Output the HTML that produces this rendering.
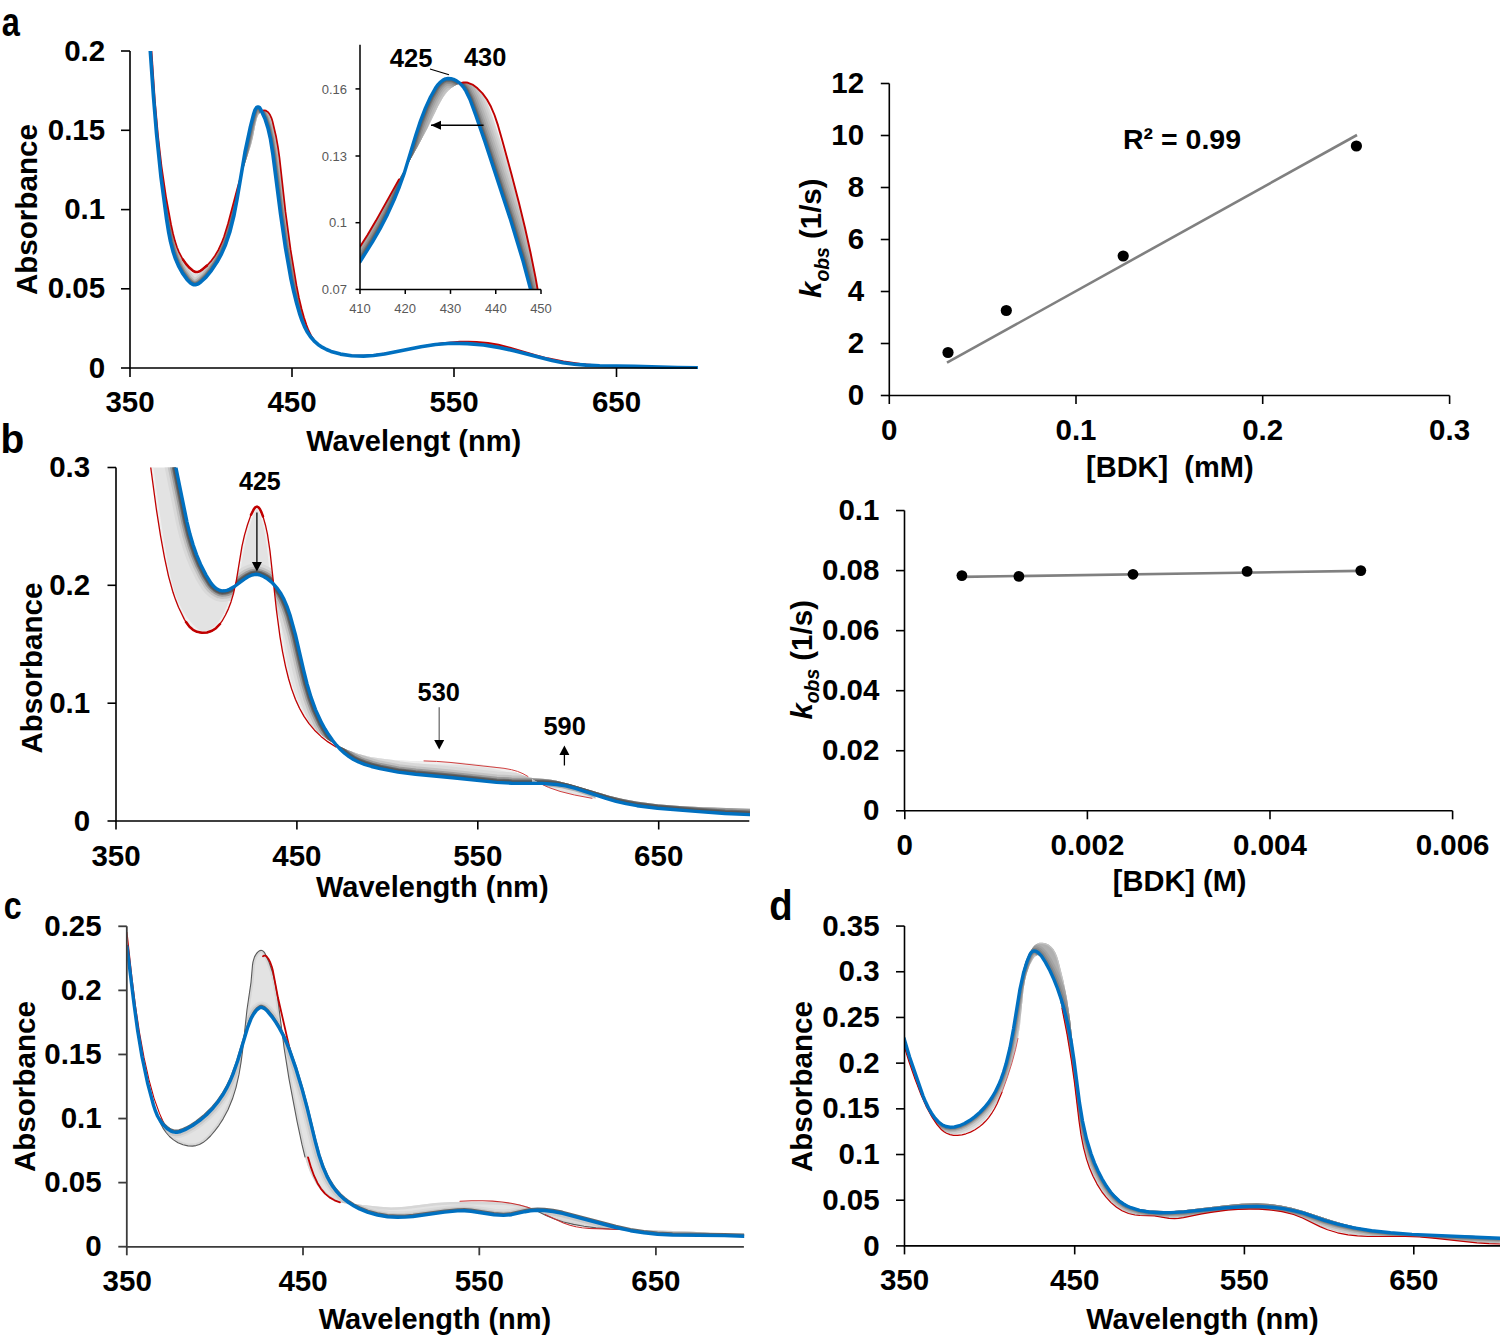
<!DOCTYPE html>
<html><head><meta charset="utf-8"><title>Figure</title>
<style>html,body{margin:0;padding:0;background:#fff;width:1500px;height:1340px;overflow:hidden}
text{font-family:"Liberation Sans",sans-serif}</style></head>
<body>
<svg width="1500" height="1340" viewBox="0 0 1500 1340" style="display:block;font-family:'Liberation Sans',sans-serif;font-weight:bold">
<text transform="translate(1.86,36.19) scale(0.8043,1)" font-size="40.51" font-weight="bold">a</text>
<text transform="translate(0.43,452.99) scale(0.9402,1)" font-size="41.36" font-weight="bold">b</text>
<text transform="translate(3.65,918.81) scale(0.8162,1)" font-size="39.42" font-weight="bold">c</text>
<text transform="translate(769.13,919.88) scale(0.9109,1)" font-size="42.04" font-weight="bold">d</text>
<defs><clipPath id="ca"><rect x="130" y="51" width="568" height="318"/></clipPath><clipPath id="cai"><rect x="360" y="44" width="182" height="246"/></clipPath><clipPath id="cb"><rect x="116" y="467.5" width="634" height="354"/></clipPath><clipPath id="cc"><rect x="127.2" y="926" width="617" height="321"/></clipPath><clipPath id="cd"><rect x="904.5" y="926" width="596" height="320"/></clipPath><marker id="ah" viewBox="0 0 10 10" refX="10" refY="5" markerWidth="10" markerHeight="10" markerUnits="userSpaceOnUse" orient="auto"><path d="M0,0.5 L10,5 L0,9.5Z" fill="#000"/></marker></defs>
<g clip-path="url(#ca)">
<clipPath id="bf1"><path d="M140.0,-50.0 144.0,-50.0 144.5,-45.9 147.5,-8.5 153.0,75.3 156.0,114.2 158.0,135.5 160.5,158.0 163.0,177.1 166.0,196.8 169.0,213.9 172.0,229.1 174.5,239.3 177.0,247.2 180.0,254.2 183.5,260.4 187.5,265.6 192.5,270.4 195.5,272.0 198.0,272.0 201.0,270.4 205.5,266.9 210.0,262.3 214.0,257.2 217.5,251.6 220.5,245.5 223.5,238.1 226.0,230.6 240.0,179.1 251.0,144.9 253.0,137.1 255.5,124.0 257.0,118.1 258.5,114.6 260.5,111.9 263.0,110.5 265.0,110.3 267.0,111.3 268.5,112.6 270.0,114.8 271.0,116.8 272.5,121.3 274.0,127.1 277.0,141.4 280.0,161.8 285.0,207.6 289.5,242.4 295.0,277.1 298.0,293.1 300.5,304.5 303.0,314.0 305.5,322.2 308.0,329.0 310.5,334.4 313.0,338.6 316.0,342.2 319.5,345.4 323.0,347.8 327.0,349.9 331.0,351.5 335.5,352.9 340.5,354.0 346.0,354.9 352.0,355.4 365.0,355.6 375.5,354.8 387.5,353.2 427.0,345.6 442.5,343.2 451.5,342.3 460.0,341.7 468.5,341.6 476.5,341.8 488.0,342.9 498.5,344.7 510.0,347.5 535.5,355.1 547.5,358.2 563.5,361.4 580.5,363.9 600.0,365.7 621.5,366.7 697.0,367.5 L697.0,367.9 677.5,367.6 634.5,366.4 599.5,365.8 586.0,365.1 574.5,364.2 563.0,362.7 552.0,360.5 515.0,351.0 500.0,347.7 483.5,345.0 467.5,343.6 451.0,343.3 435.5,344.5 421.0,346.8 384.5,354.0 373.5,355.5 363.5,356.1 351.5,355.8 340.5,354.1 331.0,351.4 326.5,349.5 322.5,347.4 318.0,344.4 314.0,340.8 310.5,336.8 307.5,332.3 304.5,326.6 302.0,320.6 299.5,313.3 296.5,302.7 293.5,290.6 291.0,279.1 285.5,248.0 280.5,213.6 273.0,155.0 270.5,139.1 268.0,128.1 265.0,118.7 261.0,109.9 259.5,107.6 258.5,107.0 257.5,107.0 256.5,107.6 255.0,110.0 253.5,114.6 250.5,126.4 245.0,152.2 237.0,199.5 234.0,215.2 230.0,231.4 225.5,244.8 221.5,253.9 217.0,262.1 211.5,270.3 206.0,277.1 201.0,281.8 199.0,283.3 197.0,284.3 195.5,284.7 194.0,284.7 192.5,284.2 190.5,283.0 187.0,279.4 182.5,273.1 178.5,265.8 175.5,258.8 173.0,251.4 170.5,241.6 168.5,231.3 166.5,218.7 161.0,177.3 156.5,133.3 153.5,96.8 146.5,-2.8 143.0,-46.2 142.5,-50.0 140.0,-50.0Z"/></clipPath>
<path d="M140.0,-50.0 144.0,-50.0 144.5,-45.9 147.5,-8.5 153.0,75.3 156.0,114.2 158.0,135.5 160.5,158.0 163.0,177.1 166.0,196.8 169.0,213.9 172.0,229.1 174.5,239.3 177.0,247.2 180.0,254.2 183.5,260.4 187.5,265.6 192.5,270.4 195.5,272.0 198.0,272.0 201.0,270.4 205.5,266.9 210.0,262.3 214.0,257.2 217.5,251.6 220.5,245.5 223.5,238.1 226.0,230.6 240.0,179.1 251.0,144.9 253.0,137.1 255.5,124.0 257.0,118.1 258.5,114.6 260.5,111.9 263.0,110.5 265.0,110.3 267.0,111.3 268.5,112.6 270.0,114.8 271.0,116.8 272.5,121.3 274.0,127.1 277.0,141.4 280.0,161.8 285.0,207.6 289.5,242.4 295.0,277.1 298.0,293.1 300.5,304.5 303.0,314.0 305.5,322.2 308.0,329.0 310.5,334.4 313.0,338.6 316.0,342.2 319.5,345.4 323.0,347.8 327.0,349.9 331.0,351.5 335.5,352.9 340.5,354.0 346.0,354.9 352.0,355.4 365.0,355.6 375.5,354.8 387.5,353.2 427.0,345.6 442.5,343.2 451.5,342.3 460.0,341.7 468.5,341.6 476.5,341.8 488.0,342.9 498.5,344.7 510.0,347.5 535.5,355.1 547.5,358.2 563.5,361.4 580.5,363.9 600.0,365.7 621.5,366.7 697.0,367.5 L697.0,367.9 677.5,367.6 634.5,366.4 599.5,365.8 586.0,365.1 574.5,364.2 563.0,362.7 552.0,360.5 515.0,351.0 500.0,347.7 483.5,345.0 467.5,343.6 451.0,343.3 435.5,344.5 421.0,346.8 384.5,354.0 373.5,355.5 363.5,356.1 351.5,355.8 340.5,354.1 331.0,351.4 326.5,349.5 322.5,347.4 318.0,344.4 314.0,340.8 310.5,336.8 307.5,332.3 304.5,326.6 302.0,320.6 299.5,313.3 296.5,302.7 293.5,290.6 291.0,279.1 285.5,248.0 280.5,213.6 273.0,155.0 270.5,139.1 268.0,128.1 265.0,118.7 261.0,109.9 259.5,107.6 258.5,107.0 257.5,107.0 256.5,107.6 255.0,110.0 253.5,114.6 250.5,126.4 245.0,152.2 237.0,199.5 234.0,215.2 230.0,231.4 225.5,244.8 221.5,253.9 217.0,262.1 211.5,270.3 206.0,277.1 201.0,281.8 199.0,283.3 197.0,284.3 195.5,284.7 194.0,284.7 192.5,284.2 190.5,283.0 187.0,279.4 182.5,273.1 178.5,265.8 175.5,258.8 173.0,251.4 170.5,241.6 168.5,231.3 166.5,218.7 161.0,177.3 156.5,133.3 153.5,96.8 146.5,-2.8 143.0,-46.2 142.5,-50.0 140.0,-50.0Z" fill="#dedede" stroke="none"/>
<g clip-path="url(#bf1)">
<path d="M140.0,-50.0 144.0,-50.0 144.5,-45.9 147.5,-8.5 153.0,75.3 156.0,114.2 158.0,135.5 160.5,158.0 163.0,177.1 166.0,196.8 169.0,213.9 172.0,229.1 174.5,239.3 177.0,247.2 180.0,254.2 183.5,260.4 187.5,265.6 192.5,270.4 195.5,272.0 198.0,272.0 201.0,270.4 205.5,266.9 210.0,262.3 214.0,257.2 217.5,251.6 220.5,245.5 223.5,238.1 226.0,230.6 240.0,179.1 251.0,144.9 253.0,137.1 255.5,124.0 257.0,118.1 258.5,114.6 260.5,111.9 263.0,110.5 265.0,110.3 267.0,111.3 268.5,112.6 270.0,114.8 271.0,116.8 272.5,121.3 274.0,127.1 277.0,141.4 280.0,161.8 285.0,207.6 289.5,242.4 295.0,277.1 298.0,293.1 300.5,304.5 303.0,314.0 305.5,322.2 308.0,329.0 310.5,334.4 313.0,338.6 316.0,342.2 319.5,345.4 323.0,347.8 327.0,349.9 331.0,351.5 335.5,352.9 340.5,354.0 346.0,354.9 352.0,355.4 365.0,355.6 375.5,354.8 387.5,353.2 427.0,345.6 442.5,343.2 451.5,342.3 460.0,341.7 468.5,341.6 476.5,341.8 488.0,342.9 498.5,344.7 510.0,347.5 535.5,355.1 547.5,358.2 563.5,361.4 580.5,363.9 600.0,365.7 621.5,366.7 697.0,367.5" fill="none" stroke="#f2f2f2" stroke-width="4" stroke-linejoin="round"/>
<path d="M140.0,-50.0 142.5,-50.0 143.0,-46.2 146.5,-2.8 153.5,96.8 156.5,133.3 161.0,177.3 166.5,218.7 168.5,231.3 170.5,241.6 173.0,251.4 175.5,258.8 178.5,265.8 182.5,273.1 187.0,279.4 190.5,283.0 192.5,284.2 194.0,284.7 195.5,284.7 197.0,284.3 199.0,283.3 201.0,281.8 206.0,277.1 211.5,270.3 217.0,262.1 221.5,253.9 225.5,244.8 230.0,231.4 234.0,215.2 237.0,199.5 245.0,152.2 250.5,126.4 253.5,114.6 255.0,110.0 256.5,107.6 257.5,107.0 258.5,107.0 259.5,107.6 261.0,109.9 265.0,118.7 268.0,128.1 270.5,139.1 273.0,155.0 280.5,213.6 285.5,248.0 291.0,279.1 293.5,290.6 296.5,302.7 299.5,313.3 302.0,320.6 304.5,326.6 307.5,332.3 310.5,336.8 314.0,340.8 318.0,344.4 322.5,347.4 326.5,349.5 331.0,351.4 340.5,354.1 351.5,355.8 363.5,356.1 373.5,355.5 384.5,354.0 421.0,346.8 435.5,344.5 451.0,343.3 467.5,343.6 483.5,345.0 500.0,347.7 515.0,351.0 552.0,360.5 563.0,362.7 574.5,364.2 586.0,365.1 599.5,365.8 634.5,366.4 677.5,367.6 697.0,367.9" fill="none" stroke="#cdcdcd" stroke-width="14" stroke-linejoin="round"/>
<path d="M140.0,-50.0 142.5,-50.0 143.0,-46.2 146.5,-2.8 153.5,96.8 156.5,133.3 161.0,177.3 166.5,218.7 168.5,231.3 170.5,241.6 173.0,251.4 175.5,258.8 178.5,265.8 182.5,273.1 187.0,279.4 190.5,283.0 192.5,284.2 194.0,284.7 195.5,284.7 197.0,284.3 199.0,283.3 201.0,281.8 206.0,277.1 211.5,270.3 217.0,262.1 221.5,253.9 225.5,244.8 230.0,231.4 234.0,215.2 237.0,199.5 245.0,152.2 250.5,126.4 253.5,114.6 255.0,110.0 256.5,107.6 257.5,107.0 258.5,107.0 259.5,107.6 261.0,109.9 265.0,118.7 268.0,128.1 270.5,139.1 273.0,155.0 280.5,213.6 285.5,248.0 291.0,279.1 293.5,290.6 296.5,302.7 299.5,313.3 302.0,320.6 304.5,326.6 307.5,332.3 310.5,336.8 314.0,340.8 318.0,344.4 322.5,347.4 326.5,349.5 331.0,351.4 340.5,354.1 351.5,355.8 363.5,356.1 373.5,355.5 384.5,354.0 421.0,346.8 435.5,344.5 451.0,343.3 467.5,343.6 483.5,345.0 500.0,347.7 515.0,351.0 552.0,360.5 563.0,362.7 574.5,364.2 586.0,365.1 599.5,365.8 634.5,366.4 677.5,367.6 697.0,367.9" fill="none" stroke="#b0b0b0" stroke-width="10" stroke-linejoin="round"/>
<path d="M140.0,-50.0 142.5,-50.0 143.0,-46.2 146.5,-2.8 153.5,96.8 156.5,133.3 161.0,177.3 166.5,218.7 168.5,231.3 170.5,241.6 173.0,251.4 175.5,258.8 178.5,265.8 182.5,273.1 187.0,279.4 190.5,283.0 192.5,284.2 194.0,284.7 195.5,284.7 197.0,284.3 199.0,283.3 201.0,281.8 206.0,277.1 211.5,270.3 217.0,262.1 221.5,253.9 225.5,244.8 230.0,231.4 234.0,215.2 237.0,199.5 245.0,152.2 250.5,126.4 253.5,114.6 255.0,110.0 256.5,107.6 257.5,107.0 258.5,107.0 259.5,107.6 261.0,109.9 265.0,118.7 268.0,128.1 270.5,139.1 273.0,155.0 280.5,213.6 285.5,248.0 291.0,279.1 293.5,290.6 296.5,302.7 299.5,313.3 302.0,320.6 304.5,326.6 307.5,332.3 310.5,336.8 314.0,340.8 318.0,344.4 322.5,347.4 326.5,349.5 331.0,351.4 340.5,354.1 351.5,355.8 363.5,356.1 373.5,355.5 384.5,354.0 421.0,346.8 435.5,344.5 451.0,343.3 467.5,343.6 483.5,345.0 500.0,347.7 515.0,351.0 552.0,360.5 563.0,362.7 574.5,364.2 586.0,365.1 599.5,365.8 634.5,366.4 677.5,367.6 697.0,367.9" fill="none" stroke="#8a8a8a" stroke-width="7" stroke-linejoin="round"/>
<path d="M140.0,-50.0 142.5,-50.0 143.0,-46.2 146.5,-2.8 153.5,96.8 156.5,133.3 161.0,177.3 166.5,218.7 168.5,231.3 170.5,241.6 173.0,251.4 175.5,258.8 178.5,265.8 182.5,273.1 187.0,279.4 190.5,283.0 192.5,284.2 194.0,284.7 195.5,284.7 197.0,284.3 199.0,283.3 201.0,281.8 206.0,277.1 211.5,270.3 217.0,262.1 221.5,253.9 225.5,244.8 230.0,231.4 234.0,215.2 237.0,199.5 245.0,152.2 250.5,126.4 253.5,114.6 255.0,110.0 256.5,107.6 257.5,107.0 258.5,107.0 259.5,107.6 261.0,109.9 265.0,118.7 268.0,128.1 270.5,139.1 273.0,155.0 280.5,213.6 285.5,248.0 291.0,279.1 293.5,290.6 296.5,302.7 299.5,313.3 302.0,320.6 304.5,326.6 307.5,332.3 310.5,336.8 314.0,340.8 318.0,344.4 322.5,347.4 326.5,349.5 331.0,351.4 340.5,354.1 351.5,355.8 363.5,356.1 373.5,355.5 384.5,354.0 421.0,346.8 435.5,344.5 451.0,343.3 467.5,343.6 483.5,345.0 500.0,347.7 515.0,351.0 552.0,360.5 563.0,362.7 574.5,364.2 586.0,365.1 599.5,365.8 634.5,366.4 677.5,367.6 697.0,367.9" fill="none" stroke="#707070" stroke-width="5" stroke-linejoin="round"/>
</g>
<path d="M140.0,-50.0 144.0,-50.0 144.5,-45.9 147.5,-8.5 155.0,102.2 158.0,135.5 161.5,166.0 166.0,196.8 171.0,224.2 173.0,233.5 175.0,241.1 177.0,247.2 179.0,252.1 182.5,258.8 186.5,264.5 189.0,267.3 192.0,270.0 194.0,271.4 195.5,272.0 198.0,272.0 201.5,270.0 207.0,265.5 211.5,260.6 215.0,255.7 218.5,249.7 221.5,243.2 224.0,236.7 228.0,223.7 237.0,189.7 241.0,175.7M262.0,110.9 264.0,110.3 266.0,110.7 268.0,112.1 270.0,114.8 271.5,118.1 272.5,121.3 276.0,136.2 278.0,147.3 279.5,157.8 285.5,211.9 290.5,249.2 296.5,285.4 299.0,297.9 301.5,308.5 304.0,317.4 306.5,325.1 308.5,330.2 311.0,335.4 313.5,339.2 316.5,342.7 320.0,345.7 323.5,348.1 327.5,350.1 331.5,351.7 336.5,353.2 341.5,354.2 353.0,355.5 365.5,355.5 376.0,354.7 387.5,353.2 427.0,345.6 442.5,343.2 451.5,342.3 460.0,341.7 468.5,341.6 476.5,341.8 488.0,342.9 498.5,344.7 510.0,347.5 535.5,355.1 547.5,358.2 563.5,361.4 580.5,363.9 600.0,365.7 621.5,366.7 697.0,367.5" fill="none" stroke="#c00000" stroke-width="1.7" stroke-linejoin="round" stroke-linecap="round" />
<path d="M183.0,259.6 186.0,263.9 189.5,267.8 193.0,270.8 195.5,272.0 197.5,272.1 199.5,271.4 203.0,268.9 207.0,265.5" fill="none" stroke="#c00000" stroke-width="2.5" stroke-linejoin="round" stroke-linecap="round" />
<path d="M140.0,-50.0 142.5,-50.0 143.0,-46.2 146.5,-2.8 153.5,96.8 156.5,133.3 161.0,177.3 166.5,218.7 168.5,231.3 170.5,241.6 173.0,251.4 175.5,258.8 178.5,265.8 182.5,273.1 187.0,279.4 190.5,283.0 192.5,284.2 194.0,284.7 195.5,284.7 197.0,284.3 199.0,283.3 201.0,281.8 206.0,277.1 211.5,270.3 217.0,262.1 221.5,253.9 225.5,244.8 230.0,231.4 234.0,215.2 237.0,199.5 245.0,152.2 250.5,126.4 253.5,114.6 255.0,110.0 256.5,107.6 257.5,107.0 258.5,107.0 259.5,107.6 261.0,109.9 265.0,118.7 268.0,128.1 270.5,139.1 273.0,155.0 280.5,213.6 285.5,248.0 291.0,279.1 293.5,290.6 296.5,302.7 299.5,313.3 302.0,320.6 304.5,326.6 307.5,332.3 310.5,336.8 314.0,340.8 318.0,344.4 322.5,347.4 326.5,349.5 331.0,351.4 340.5,354.1 351.5,355.8 363.5,356.1 373.5,355.5 384.5,354.0 421.0,346.8 435.5,344.5 451.0,343.3 467.5,343.6 483.5,345.0 500.0,347.7 515.0,351.0 552.0,360.5 563.0,362.7 574.5,364.2 586.0,365.1 599.5,365.8 634.5,366.4 677.5,367.6 697.0,367.9" fill="none" stroke="#0070c0" stroke-width="3.6" stroke-linejoin="round" stroke-linecap="round" />
</g>
<path d="M130,51 L130,368 L697,368" fill="none" stroke="#000" stroke-width="1.6"/>
<line x1="121" y1="51" x2="130" y2="51" stroke="#000" stroke-width="1.6"/>
<line x1="121" y1="130.3" x2="130" y2="130.3" stroke="#000" stroke-width="1.6"/>
<line x1="121" y1="209.6" x2="130" y2="209.6" stroke="#000" stroke-width="1.6"/>
<line x1="121" y1="288.8" x2="130" y2="288.8" stroke="#000" stroke-width="1.6"/>
<line x1="121" y1="368" x2="130" y2="368" stroke="#000" stroke-width="1.6"/>
<line x1="130" y1="368" x2="130" y2="377" stroke="#000" stroke-width="1.6"/>
<line x1="292" y1="368" x2="292" y2="377" stroke="#000" stroke-width="1.6"/>
<line x1="454" y1="368" x2="454" y2="377" stroke="#000" stroke-width="1.6"/>
<line x1="616.5" y1="368" x2="616.5" y2="377" stroke="#000" stroke-width="1.6"/>
<text x="105.2" y="60.6" font-size="29.5" text-anchor="end" font-weight="bold" fill="#000"  style="">0.2</text>
<text x="105.2" y="139.9" font-size="29.5" text-anchor="end" font-weight="bold" fill="#000"  style="">0.15</text>
<text x="105.2" y="219.2" font-size="29.5" text-anchor="end" font-weight="bold" fill="#000"  style="">0.1</text>
<text x="105.2" y="298.4" font-size="29.5" text-anchor="end" font-weight="bold" fill="#000"  style="">0.05</text>
<text x="105.2" y="377.6" font-size="29.5" text-anchor="end" font-weight="bold" fill="#000"  style="">0</text>
<text x="130.0" y="412.0" font-size="29.5" text-anchor="middle" font-weight="bold" fill="#000"  style="">350</text>
<text x="292.0" y="412.0" font-size="29.5" text-anchor="middle" font-weight="bold" fill="#000"  style="">450</text>
<text x="454.0" y="412.0" font-size="29.5" text-anchor="middle" font-weight="bold" fill="#000"  style="">550</text>
<text x="616.5" y="412.0" font-size="29.5" text-anchor="middle" font-weight="bold" fill="#000"  style="">650</text>
<text x="413.7" y="450.8" font-size="29" text-anchor="middle" font-weight="bold" fill="#000"  style="">Wavelengt (nm)</text>
<text transform="translate(37.4,209.6) rotate(-90)" x="0" y="0" font-size="29.6" text-anchor="middle" font-weight="bold" >Absorbance</text>
<g clip-path="url(#cai)">
<clipPath id="bf2"><path d="M360.0,246.8 368.5,233.2 377.5,218.0 417.5,146.7 427.5,128.0 438.5,105.4 443.0,97.6 445.5,94.1 448.5,90.6 451.5,87.8 455.0,85.4 458.5,83.7 462.0,82.7 465.5,82.4 468.5,82.9 472.5,84.6 476.5,87.4 480.5,91.2 484.5,95.9 488.0,101.2 491.0,106.8 494.0,113.7 496.5,120.7 500.0,132.3 508.0,161.2 520.0,207.1 526.0,232.2 531.0,254.9 535.5,277.4 539.5,299.9 540.0,300.3 541.0,300.3 L541.0,297.9 533.0,297.9 532.5,296.6 523.0,261.0 510.0,218.1 485.0,141.9 476.0,115.8 470.0,99.5 466.0,91.2 464.0,88.0 461.5,84.9 459.0,82.6 456.5,80.8 453.5,79.4 451.0,78.7 448.0,78.5 445.5,78.9 443.0,80.1 440.5,82.0 438.0,84.6 435.5,88.1 430.5,97.0 425.5,107.9 420.5,120.9 416.0,134.5 404.0,173.9 399.5,186.5 394.0,200.1 387.5,214.4 380.0,228.9 372.5,241.8 360.0,261.8Z"/></clipPath>
<path d="M360.0,246.8 368.5,233.2 377.5,218.0 417.5,146.7 427.5,128.0 438.5,105.4 443.0,97.6 445.5,94.1 448.5,90.6 451.5,87.8 455.0,85.4 458.5,83.7 462.0,82.7 465.5,82.4 468.5,82.9 472.5,84.6 476.5,87.4 480.5,91.2 484.5,95.9 488.0,101.2 491.0,106.8 494.0,113.7 496.5,120.7 500.0,132.3 508.0,161.2 520.0,207.1 526.0,232.2 531.0,254.9 535.5,277.4 539.5,299.9 540.0,300.3 541.0,300.3 L541.0,297.9 533.0,297.9 532.5,296.6 523.0,261.0 510.0,218.1 485.0,141.9 476.0,115.8 470.0,99.5 466.0,91.2 464.0,88.0 461.5,84.9 459.0,82.6 456.5,80.8 453.5,79.4 451.0,78.7 448.0,78.5 445.5,78.9 443.0,80.1 440.5,82.0 438.0,84.6 435.5,88.1 430.5,97.0 425.5,107.9 420.5,120.9 416.0,134.5 404.0,173.9 399.5,186.5 394.0,200.1 387.5,214.4 380.0,228.9 372.5,241.8 360.0,261.8Z" fill="#e2e2e2" stroke="none"/>
<g clip-path="url(#bf2)">
<path d="M360.0,246.8 368.5,233.2 377.5,218.0 417.5,146.7 427.5,128.0 438.5,105.4 443.0,97.6 445.5,94.1 448.5,90.6 451.5,87.8 455.0,85.4 458.5,83.7 462.0,82.7 465.5,82.4 468.5,82.9 472.5,84.6 476.5,87.4 480.5,91.2 484.5,95.9 488.0,101.2 491.0,106.8 494.0,113.7 496.5,120.7 500.0,132.3 508.0,161.2 520.0,207.1 526.0,232.2 531.0,254.9 535.5,277.4 539.5,299.9 540.0,300.3 541.0,300.3" fill="none" stroke="#f4f4f4" stroke-width="5" stroke-linejoin="round"/>
<path d="M360.0,261.8 372.5,241.8 380.0,228.9 387.5,214.4 394.0,200.1 399.5,186.5 404.0,173.9 416.0,134.5 420.5,120.9 425.5,107.9 430.5,97.0 435.5,88.1 438.0,84.6 440.5,82.0 443.0,80.1 445.5,78.9 448.0,78.5 451.0,78.7 453.5,79.4 456.5,80.8 459.0,82.6 461.5,84.9 464.0,88.0 466.0,91.2 470.0,99.5 476.0,115.8 485.0,141.9 510.0,218.1 523.0,261.0 532.5,296.6 533.0,297.9 541.0,297.9" fill="none" stroke="#d8d8d8" stroke-width="30" stroke-linejoin="round"/>
<path d="M360.0,261.8 372.5,241.8 380.0,228.9 387.5,214.4 394.0,200.1 399.5,186.5 404.0,173.9 416.0,134.5 420.5,120.9 425.5,107.9 430.5,97.0 435.5,88.1 438.0,84.6 440.5,82.0 443.0,80.1 445.5,78.9 448.0,78.5 451.0,78.7 453.5,79.4 456.5,80.8 459.0,82.6 461.5,84.9 464.0,88.0 466.0,91.2 470.0,99.5 476.0,115.8 485.0,141.9 510.0,218.1 523.0,261.0 532.5,296.6 533.0,297.9 541.0,297.9" fill="none" stroke="#cecece" stroke-width="26" stroke-linejoin="round"/>
<path d="M360.0,261.8 372.5,241.8 380.0,228.9 387.5,214.4 394.0,200.1 399.5,186.5 404.0,173.9 416.0,134.5 420.5,120.9 425.5,107.9 430.5,97.0 435.5,88.1 438.0,84.6 440.5,82.0 443.0,80.1 445.5,78.9 448.0,78.5 451.0,78.7 453.5,79.4 456.5,80.8 459.0,82.6 461.5,84.9 464.0,88.0 466.0,91.2 470.0,99.5 476.0,115.8 485.0,141.9 510.0,218.1 523.0,261.0 532.5,296.6 533.0,297.9 541.0,297.9" fill="none" stroke="#c2c2c2" stroke-width="22" stroke-linejoin="round"/>
<path d="M360.0,261.8 372.5,241.8 380.0,228.9 387.5,214.4 394.0,200.1 399.5,186.5 404.0,173.9 416.0,134.5 420.5,120.9 425.5,107.9 430.5,97.0 435.5,88.1 438.0,84.6 440.5,82.0 443.0,80.1 445.5,78.9 448.0,78.5 451.0,78.7 453.5,79.4 456.5,80.8 459.0,82.6 461.5,84.9 464.0,88.0 466.0,91.2 470.0,99.5 476.0,115.8 485.0,141.9 510.0,218.1 523.0,261.0 532.5,296.6 533.0,297.9 541.0,297.9" fill="none" stroke="#b4b4b4" stroke-width="18" stroke-linejoin="round"/>
<path d="M360.0,261.8 372.5,241.8 380.0,228.9 387.5,214.4 394.0,200.1 399.5,186.5 404.0,173.9 416.0,134.5 420.5,120.9 425.5,107.9 430.5,97.0 435.5,88.1 438.0,84.6 440.5,82.0 443.0,80.1 445.5,78.9 448.0,78.5 451.0,78.7 453.5,79.4 456.5,80.8 459.0,82.6 461.5,84.9 464.0,88.0 466.0,91.2 470.0,99.5 476.0,115.8 485.0,141.9 510.0,218.1 523.0,261.0 532.5,296.6 533.0,297.9 541.0,297.9" fill="none" stroke="#a4a4a4" stroke-width="14" stroke-linejoin="round"/>
<path d="M360.0,261.8 372.5,241.8 380.0,228.9 387.5,214.4 394.0,200.1 399.5,186.5 404.0,173.9 416.0,134.5 420.5,120.9 425.5,107.9 430.5,97.0 435.5,88.1 438.0,84.6 440.5,82.0 443.0,80.1 445.5,78.9 448.0,78.5 451.0,78.7 453.5,79.4 456.5,80.8 459.0,82.6 461.5,84.9 464.0,88.0 466.0,91.2 470.0,99.5 476.0,115.8 485.0,141.9 510.0,218.1 523.0,261.0 532.5,296.6 533.0,297.9 541.0,297.9" fill="none" stroke="#909090" stroke-width="10.5" stroke-linejoin="round"/>
<path d="M360.0,261.8 372.5,241.8 380.0,228.9 387.5,214.4 394.0,200.1 399.5,186.5 404.0,173.9 416.0,134.5 420.5,120.9 425.5,107.9 430.5,97.0 435.5,88.1 438.0,84.6 440.5,82.0 443.0,80.1 445.5,78.9 448.0,78.5 451.0,78.7 453.5,79.4 456.5,80.8 459.0,82.6 461.5,84.9 464.0,88.0 466.0,91.2 470.0,99.5 476.0,115.8 485.0,141.9 510.0,218.1 523.0,261.0 532.5,296.6 533.0,297.9 541.0,297.9" fill="none" stroke="#7a7a7a" stroke-width="7.5" stroke-linejoin="round"/>
<path d="M360.0,261.8 372.5,241.8 380.0,228.9 387.5,214.4 394.0,200.1 399.5,186.5 404.0,173.9 416.0,134.5 420.5,120.9 425.5,107.9 430.5,97.0 435.5,88.1 438.0,84.6 440.5,82.0 443.0,80.1 445.5,78.9 448.0,78.5 451.0,78.7 453.5,79.4 456.5,80.8 459.0,82.6 461.5,84.9 464.0,88.0 466.0,91.2 470.0,99.5 476.0,115.8 485.0,141.9 510.0,218.1 523.0,261.0 532.5,296.6 533.0,297.9 541.0,297.9" fill="none" stroke="#646464" stroke-width="5.5" stroke-linejoin="round"/>
</g>
<path d="M360.0,246.8 367.5,234.9 376.0,220.6 399.0,179.4M459.0,83.5 463.5,82.5 466.0,82.4 468.0,82.8 472.5,84.6 477.5,88.3 482.5,93.4 487.0,99.5 491.0,106.8 494.5,115.0 498.0,125.4 502.5,141.2 511.5,174.2 519.0,203.1 525.0,227.8 530.5,252.5 535.5,277.4 539.5,299.9 540.0,300.3 541.0,300.3" fill="none" stroke="#c00000" stroke-width="1.9" stroke-linejoin="round" stroke-linecap="round" />
<path d="M360.0,261.8 372.5,241.8 380.0,228.9 387.5,214.4 394.0,200.1 399.5,186.5 404.0,173.9 416.0,134.5 420.5,120.9 425.5,107.9 430.5,97.0 435.5,88.1 438.0,84.6 440.5,82.0 443.0,80.1 445.5,78.9 448.0,78.5 451.0,78.7 453.5,79.4 456.5,80.8 459.0,82.6 461.5,84.9 464.0,88.0 466.0,91.2 470.0,99.5 476.0,115.8 485.0,141.9 510.0,218.1 523.0,261.0 532.5,296.6 533.0,297.9 541.0,297.9" fill="none" stroke="#0070c0" stroke-width="3.4" stroke-linejoin="round" stroke-linecap="round" />
</g>
<path d="M360,44.7 L360,289.4 L541,289.4" fill="none" stroke="#000" stroke-width="1.5"/>
<line x1="355.5" y1="289.4" x2="360" y2="289.4" stroke="#000" stroke-width="1.5"/>
<line x1="355.5" y1="222.7" x2="360" y2="222.7" stroke="#000" stroke-width="1.5"/>
<line x1="355.5" y1="156" x2="360" y2="156" stroke="#000" stroke-width="1.5"/>
<line x1="355.5" y1="88.9" x2="360" y2="88.9" stroke="#000" stroke-width="1.5"/>
<line x1="360" y1="289.4" x2="360" y2="293.9" stroke="#000" stroke-width="1.5"/>
<line x1="405.25" y1="289.4" x2="405.25" y2="293.9" stroke="#000" stroke-width="1.5"/>
<line x1="450.5" y1="289.4" x2="450.5" y2="293.9" stroke="#000" stroke-width="1.5"/>
<line x1="495.75" y1="289.4" x2="495.75" y2="293.9" stroke="#000" stroke-width="1.5"/>
<line x1="541" y1="289.4" x2="541" y2="293.9" stroke="#000" stroke-width="1.5"/>
<text x="347.0" y="294.1" font-size="13" text-anchor="end" font-weight="normal" fill="#595959"  style="">0.07</text>
<text x="347.0" y="227.4" font-size="13" text-anchor="end" font-weight="normal" fill="#595959"  style="">0.1</text>
<text x="347.0" y="160.7" font-size="13" text-anchor="end" font-weight="normal" fill="#595959"  style="">0.13</text>
<text x="347.0" y="93.6" font-size="13" text-anchor="end" font-weight="normal" fill="#595959"  style="">0.16</text>
<text x="360.0" y="313.2" font-size="13" text-anchor="middle" font-weight="normal" fill="#595959"  style="">410</text>
<text x="405.2" y="313.2" font-size="13" text-anchor="middle" font-weight="normal" fill="#595959"  style="">420</text>
<text x="450.5" y="313.2" font-size="13" text-anchor="middle" font-weight="normal" fill="#595959"  style="">430</text>
<text x="495.8" y="313.2" font-size="13" text-anchor="middle" font-weight="normal" fill="#595959"  style="">440</text>
<text x="541.0" y="313.2" font-size="13" text-anchor="middle" font-weight="normal" fill="#595959"  style="">450</text>
<text x="389.8" y="67.3" font-size="25.6" text-anchor="start" font-weight="bold" fill="#000"  style="">425</text>
<text x="464.0" y="66.2" font-size="25.4" text-anchor="start" font-weight="bold" fill="#000"  style="">430</text>
<line x1="430" y1="69" x2="449" y2="74.8" stroke="#000" stroke-width="1.2"/>
<line x1="483.6" y1="125.3" x2="431" y2="125.3" stroke="#000" stroke-width="1.5" marker-end="url(#ah)"/>
<line x1="947" y1="362.7" x2="1357" y2="135" stroke="#808080" stroke-width="2.6"/>
<circle cx="948" cy="352.5" r="5.6" fill="#000"/>
<circle cx="1006.3" cy="310.5" r="5.6" fill="#000"/>
<circle cx="1123.2" cy="256" r="5.6" fill="#000"/>
<circle cx="1356.4" cy="146" r="5.6" fill="#000"/>
<path d="M889.3,83.5 L889.3,395.5 L1449.6,395.5" fill="none" stroke="#000" stroke-width="1.6"/>
<line x1="880.8" y1="395.5" x2="889.3" y2="395.5" stroke="#000" stroke-width="1.6"/>
<line x1="880.8" y1="343.5" x2="889.3" y2="343.5" stroke="#000" stroke-width="1.6"/>
<line x1="880.8" y1="291.5" x2="889.3" y2="291.5" stroke="#000" stroke-width="1.6"/>
<line x1="880.8" y1="239.5" x2="889.3" y2="239.5" stroke="#000" stroke-width="1.6"/>
<line x1="880.8" y1="187.5" x2="889.3" y2="187.5" stroke="#000" stroke-width="1.6"/>
<line x1="880.8" y1="135.5" x2="889.3" y2="135.5" stroke="#000" stroke-width="1.6"/>
<line x1="880.8" y1="83.5" x2="889.3" y2="83.5" stroke="#000" stroke-width="1.6"/>
<line x1="889.3" y1="395.5" x2="889.3" y2="404.0" stroke="#000" stroke-width="1.6"/>
<line x1="1076" y1="395.5" x2="1076" y2="404.0" stroke="#000" stroke-width="1.6"/>
<line x1="1262.7" y1="395.5" x2="1262.7" y2="404.0" stroke="#000" stroke-width="1.6"/>
<line x1="1449.6" y1="395.5" x2="1449.6" y2="404.0" stroke="#000" stroke-width="1.6"/>
<text x="864.1" y="405.1" font-size="29.5" text-anchor="end" font-weight="bold" fill="#000"  style="">0</text>
<text x="864.1" y="353.1" font-size="29.5" text-anchor="end" font-weight="bold" fill="#000"  style="">2</text>
<text x="864.1" y="301.1" font-size="29.5" text-anchor="end" font-weight="bold" fill="#000"  style="">4</text>
<text x="864.1" y="249.1" font-size="29.5" text-anchor="end" font-weight="bold" fill="#000"  style="">6</text>
<text x="864.1" y="197.1" font-size="29.5" text-anchor="end" font-weight="bold" fill="#000"  style="">8</text>
<text x="864.1" y="145.1" font-size="29.5" text-anchor="end" font-weight="bold" fill="#000"  style="">10</text>
<text x="864.1" y="93.1" font-size="29.5" text-anchor="end" font-weight="bold" fill="#000"  style="">12</text>
<text x="889.3" y="440.0" font-size="29.5" text-anchor="middle" font-weight="bold" fill="#000"  style="">0</text>
<text x="1076.0" y="440.0" font-size="29.5" text-anchor="middle" font-weight="bold" fill="#000"  style="">0.1</text>
<text x="1262.7" y="440.0" font-size="29.5" text-anchor="middle" font-weight="bold" fill="#000"  style="">0.2</text>
<text x="1449.6" y="440.0" font-size="29.5" text-anchor="middle" font-weight="bold" fill="#000"  style="">0.3</text>
<text x="1123.0" y="148.5" font-size="28.5" text-anchor="start" font-weight="bold" fill="#000"  style="">R² = 0.99</text>
<text x="1169.8" y="477.2" font-size="29" text-anchor="middle" font-weight="bold" fill="#000"  style="">[BDK]&#160; (mM)</text>
<text transform="translate(821,298) rotate(-90)" font-size="29.5" font-weight="bold"><tspan font-style="italic">k</tspan><tspan font-style="italic" font-size="19.3" dy="7.6">obs</tspan><tspan dy="-7.6"> (1/s)</tspan></text>
<line x1="961.9" y1="576.9" x2="1360.8" y2="570.9" stroke="#808080" stroke-width="2.6"/>
<circle cx="961.9" cy="575.6" r="5.4" fill="#000"/>
<circle cx="1018.9" cy="576.4" r="5.4" fill="#000"/>
<circle cx="1133" cy="574.3" r="5.4" fill="#000"/>
<circle cx="1247.1" cy="571.4" r="5.4" fill="#000"/>
<circle cx="1360.8" cy="570.6" r="5.4" fill="#000"/>
<path d="M904.5,510.6 L904.5,810.8 L1452.6,810.8" fill="none" stroke="#000" stroke-width="1.6"/>
<line x1="896.0" y1="810.8" x2="904.5" y2="810.8" stroke="#000" stroke-width="1.6"/>
<line x1="896.0" y1="750.75" x2="904.5" y2="750.75" stroke="#000" stroke-width="1.6"/>
<line x1="896.0" y1="690.6999999999999" x2="904.5" y2="690.6999999999999" stroke="#000" stroke-width="1.6"/>
<line x1="896.0" y1="630.65" x2="904.5" y2="630.65" stroke="#000" stroke-width="1.6"/>
<line x1="896.0" y1="570.5999999999999" x2="904.5" y2="570.5999999999999" stroke="#000" stroke-width="1.6"/>
<line x1="896.0" y1="510.54999999999995" x2="904.5" y2="510.54999999999995" stroke="#000" stroke-width="1.6"/>
<line x1="904.8" y1="810.8" x2="904.8" y2="819.3" stroke="#000" stroke-width="1.6"/>
<line x1="1087.4" y1="810.8" x2="1087.4" y2="819.3" stroke="#000" stroke-width="1.6"/>
<line x1="1270" y1="810.8" x2="1270" y2="819.3" stroke="#000" stroke-width="1.6"/>
<line x1="1452.6" y1="810.8" x2="1452.6" y2="819.3" stroke="#000" stroke-width="1.6"/>
<text x="879.4" y="820.4" font-size="29.5" text-anchor="end" font-weight="bold" fill="#000"  style="">0</text>
<text x="879.4" y="760.4" font-size="29.5" text-anchor="end" font-weight="bold" fill="#000"  style="">0.02</text>
<text x="879.4" y="700.3" font-size="29.5" text-anchor="end" font-weight="bold" fill="#000"  style="">0.04</text>
<text x="879.4" y="640.2" font-size="29.5" text-anchor="end" font-weight="bold" fill="#000"  style="">0.06</text>
<text x="879.4" y="580.2" font-size="29.5" text-anchor="end" font-weight="bold" fill="#000"  style="">0.08</text>
<text x="879.4" y="520.1" font-size="29.5" text-anchor="end" font-weight="bold" fill="#000"  style="">0.1</text>
<text x="904.8" y="855.4" font-size="29.5" text-anchor="middle" font-weight="bold" fill="#000"  style="">0</text>
<text x="1087.4" y="855.4" font-size="29.5" text-anchor="middle" font-weight="bold" fill="#000"  style="">0.002</text>
<text x="1270.0" y="855.4" font-size="29.5" text-anchor="middle" font-weight="bold" fill="#000"  style="">0.004</text>
<text x="1452.6" y="855.4" font-size="29.5" text-anchor="middle" font-weight="bold" fill="#000"  style="">0.006</text>
<text x="1179.7" y="891.2" font-size="29" text-anchor="middle" font-weight="bold" fill="#000"  style="">[BDK] (M)</text>
<text transform="translate(811.6,719.6) rotate(-90)" font-size="29.5" font-weight="bold"><tspan font-style="italic">k</tspan><tspan font-style="italic" font-size="19.3" dy="7.6">obs</tspan><tspan dy="-7.6"> (1/s)</tspan></text>
<g clip-path="url(#cb)">
<clipPath id="bf3"><path d="M140.0,392.8 145.5,429.1 157.5,515.1 161.5,540.8 165.5,563.9 168.5,578.5 172.0,591.5 175.5,601.3 180.0,610.8 185.0,618.8 190.5,625.5 196.5,631.2 199.0,632.7 201.0,633.5 203.0,633.9 205.5,633.7 208.0,633.0 210.5,632.0 213.5,630.1 216.0,628.1 220.5,623.2 224.0,617.8 227.5,610.9 230.5,603.3 233.0,595.3 236.0,582.1 240.5,554.7 242.5,544.3 245.5,532.0 249.0,520.4 251.5,513.5 254.0,508.4 255.5,506.6 256.5,506.0 257.5,506.1 258.5,506.7 260.5,509.7 263.0,516.1 265.5,525.1 267.5,534.5 269.5,548.2 276.5,609.4 280.0,634.8 282.5,650.1 285.5,666.0 288.0,677.4 290.5,686.8 293.5,696.0 296.5,703.3 300.0,710.2 304.0,716.6 309.0,723.1 314.5,728.9 320.5,734.3 327.5,739.5 337.0,745.2 347.5,750.1 358.5,754.0 370.5,756.9 382.5,758.8 396.0,760.2 411.0,761.0 445.5,761.9 460.5,762.6 476.5,763.9 490.5,765.9 500.5,767.8 509.0,770.1 516.0,772.4 525.5,776.3 529.0,777.4 534.5,778.3 548.5,779.2 556.5,780.7 569.5,784.1 610.0,795.9 623.0,799.0 636.5,801.5 657.0,804.2 679.5,806.1 703.0,807.3 750.0,808.7 L750.0,814.6 725.0,813.5 695.5,811.4 657.5,808.2 637.0,805.7 626.0,803.7 616.0,801.3 606.0,798.4 575.5,788.4 565.5,785.9 556.5,784.5 542.5,783.4 511.5,783.2 496.5,782.4 452.5,777.7 415.5,774.3 398.0,772.1 380.0,768.7 371.5,766.5 364.5,764.3 358.5,762.0 353.5,759.5 349.0,756.6 344.5,753.2 340.5,749.5 336.5,745.2 332.5,740.3 328.5,734.6 325.0,729.0 321.5,722.7 315.5,709.6 311.0,697.2 307.0,683.7 303.5,669.7 295.5,634.9 290.0,615.0 287.0,606.4 284.0,599.4 281.0,593.8 277.5,588.6 272.5,583.0 266.5,578.2 263.5,576.5 260.5,575.2 258.0,574.5 255.5,574.3 252.0,575.0 248.0,576.8 244.0,579.4 234.5,586.5 229.5,589.3 227.0,590.3 224.5,590.8 222.0,590.9 220.0,590.5 217.5,589.3 215.5,587.9 213.5,586.1 211.0,583.1 206.0,575.1 200.5,564.2 196.5,554.6 193.0,544.5 190.0,534.3 187.0,522.1 171.0,443.5 140.0,300.4Z"/></clipPath>
<path d="M140.0,392.8 145.5,429.1 157.5,515.1 161.5,540.8 165.5,563.9 168.5,578.5 172.0,591.5 175.5,601.3 180.0,610.8 185.0,618.8 190.5,625.5 196.5,631.2 199.0,632.7 201.0,633.5 203.0,633.9 205.5,633.7 208.0,633.0 210.5,632.0 213.5,630.1 216.0,628.1 220.5,623.2 224.0,617.8 227.5,610.9 230.5,603.3 233.0,595.3 236.0,582.1 240.5,554.7 242.5,544.3 245.5,532.0 249.0,520.4 251.5,513.5 254.0,508.4 255.5,506.6 256.5,506.0 257.5,506.1 258.5,506.7 260.5,509.7 263.0,516.1 265.5,525.1 267.5,534.5 269.5,548.2 276.5,609.4 280.0,634.8 282.5,650.1 285.5,666.0 288.0,677.4 290.5,686.8 293.5,696.0 296.5,703.3 300.0,710.2 304.0,716.6 309.0,723.1 314.5,728.9 320.5,734.3 327.5,739.5 337.0,745.2 347.5,750.1 358.5,754.0 370.5,756.9 382.5,758.8 396.0,760.2 411.0,761.0 445.5,761.9 460.5,762.6 476.5,763.9 490.5,765.9 500.5,767.8 509.0,770.1 516.0,772.4 525.5,776.3 529.0,777.4 534.5,778.3 548.5,779.2 556.5,780.7 569.5,784.1 610.0,795.9 623.0,799.0 636.5,801.5 657.0,804.2 679.5,806.1 703.0,807.3 750.0,808.7 L750.0,814.6 725.0,813.5 695.5,811.4 657.5,808.2 637.0,805.7 626.0,803.7 616.0,801.3 606.0,798.4 575.5,788.4 565.5,785.9 556.5,784.5 542.5,783.4 511.5,783.2 496.5,782.4 452.5,777.7 415.5,774.3 398.0,772.1 380.0,768.7 371.5,766.5 364.5,764.3 358.5,762.0 353.5,759.5 349.0,756.6 344.5,753.2 340.5,749.5 336.5,745.2 332.5,740.3 328.5,734.6 325.0,729.0 321.5,722.7 315.5,709.6 311.0,697.2 307.0,683.7 303.5,669.7 295.5,634.9 290.0,615.0 287.0,606.4 284.0,599.4 281.0,593.8 277.5,588.6 272.5,583.0 266.5,578.2 263.5,576.5 260.5,575.2 258.0,574.5 255.5,574.3 252.0,575.0 248.0,576.8 244.0,579.4 234.5,586.5 229.5,589.3 227.0,590.3 224.5,590.8 222.0,590.9 220.0,590.5 217.5,589.3 215.5,587.9 213.5,586.1 211.0,583.1 206.0,575.1 200.5,564.2 196.5,554.6 193.0,544.5 190.0,534.3 187.0,522.1 171.0,443.5 140.0,300.4Z" fill="#e3e3e3" stroke="none"/>
<g clip-path="url(#bf3)">
<path d="M140.0,392.8 145.5,429.1 157.5,515.1 161.5,540.8 165.5,563.9 168.5,578.5 172.0,591.5 175.5,601.3 180.0,610.8 185.0,618.8 190.5,625.5 196.5,631.2 199.0,632.7 201.0,633.5 203.0,633.9 205.5,633.7 208.0,633.0 210.5,632.0 213.5,630.1 216.0,628.1 220.5,623.2 224.0,617.8 227.5,610.9 230.5,603.3 233.0,595.3 236.0,582.1 240.5,554.7 242.5,544.3 245.5,532.0 249.0,520.4 251.5,513.5 254.0,508.4 255.5,506.6 256.5,506.0 257.5,506.1 258.5,506.7 260.5,509.7 263.0,516.1 265.5,525.1 267.5,534.5 269.5,548.2 276.5,609.4 280.0,634.8 282.5,650.1 285.5,666.0 288.0,677.4 290.5,686.8 293.5,696.0 296.5,703.3 300.0,710.2 304.0,716.6 309.0,723.1 314.5,728.9 320.5,734.3 327.5,739.5 337.0,745.2 347.5,750.1 358.5,754.0 370.5,756.9 382.5,758.8 396.0,760.2 411.0,761.0 445.5,761.9 460.5,762.6 476.5,763.9 490.5,765.9 500.5,767.8 509.0,770.1 516.0,772.4 525.5,776.3 529.0,777.4 534.5,778.3 548.5,779.2 556.5,780.7 569.5,784.1 610.0,795.9 623.0,799.0 636.5,801.5 657.0,804.2 679.5,806.1 703.0,807.3 750.0,808.7" fill="none" stroke="#efefef" stroke-width="5" stroke-linejoin="round"/>
<path d="M140.0,300.4 171.0,443.5 187.0,522.1 190.0,534.3 193.0,544.5 196.5,554.6 200.5,564.2 206.0,575.1 211.0,583.1 213.5,586.1 215.5,587.9 217.5,589.3 220.0,590.5 222.0,590.9 224.5,590.8 227.0,590.3 229.5,589.3 234.5,586.5 244.0,579.4 248.0,576.8 252.0,575.0 255.5,574.3 258.0,574.5 260.5,575.2 263.5,576.5 266.5,578.2 272.5,583.0 277.5,588.6 281.0,593.8 284.0,599.4 287.0,606.4 290.0,615.0 295.5,634.9 303.5,669.7 307.0,683.7 311.0,697.2 315.5,709.6 321.5,722.7 325.0,729.0 328.5,734.6 332.5,740.3 336.5,745.2 340.5,749.5 344.5,753.2 349.0,756.6 353.5,759.5 358.5,762.0 364.5,764.3 371.5,766.5 380.0,768.7 398.0,772.1 415.5,774.3 452.5,777.7 496.5,782.4 511.5,783.2 542.5,783.4 556.5,784.5 565.5,785.9 575.5,788.4 606.0,798.4 616.0,801.3 626.0,803.7 637.0,805.7 657.5,808.2 695.5,811.4 725.0,813.5 750.0,814.6" fill="none" stroke="#d9d9d9" stroke-width="22" stroke-linejoin="round"/>
<path d="M140.0,300.4 171.0,443.5 187.0,522.1 190.0,534.3 193.0,544.5 196.5,554.6 200.5,564.2 206.0,575.1 211.0,583.1 213.5,586.1 215.5,587.9 217.5,589.3 220.0,590.5 222.0,590.9 224.5,590.8 227.0,590.3 229.5,589.3 234.5,586.5 244.0,579.4 248.0,576.8 252.0,575.0 255.5,574.3 258.0,574.5 260.5,575.2 263.5,576.5 266.5,578.2 272.5,583.0 277.5,588.6 281.0,593.8 284.0,599.4 287.0,606.4 290.0,615.0 295.5,634.9 303.5,669.7 307.0,683.7 311.0,697.2 315.5,709.6 321.5,722.7 325.0,729.0 328.5,734.6 332.5,740.3 336.5,745.2 340.5,749.5 344.5,753.2 349.0,756.6 353.5,759.5 358.5,762.0 364.5,764.3 371.5,766.5 380.0,768.7 398.0,772.1 415.5,774.3 452.5,777.7 496.5,782.4 511.5,783.2 542.5,783.4 556.5,784.5 565.5,785.9 575.5,788.4 606.0,798.4 616.0,801.3 626.0,803.7 637.0,805.7 657.5,808.2 695.5,811.4 725.0,813.5 750.0,814.6" fill="none" stroke="#c3c3c3" stroke-width="16" stroke-linejoin="round"/>
<path d="M140.0,300.4 171.0,443.5 187.0,522.1 190.0,534.3 193.0,544.5 196.5,554.6 200.5,564.2 206.0,575.1 211.0,583.1 213.5,586.1 215.5,587.9 217.5,589.3 220.0,590.5 222.0,590.9 224.5,590.8 227.0,590.3 229.5,589.3 234.5,586.5 244.0,579.4 248.0,576.8 252.0,575.0 255.5,574.3 258.0,574.5 260.5,575.2 263.5,576.5 266.5,578.2 272.5,583.0 277.5,588.6 281.0,593.8 284.0,599.4 287.0,606.4 290.0,615.0 295.5,634.9 303.5,669.7 307.0,683.7 311.0,697.2 315.5,709.6 321.5,722.7 325.0,729.0 328.5,734.6 332.5,740.3 336.5,745.2 340.5,749.5 344.5,753.2 349.0,756.6 353.5,759.5 358.5,762.0 364.5,764.3 371.5,766.5 380.0,768.7 398.0,772.1 415.5,774.3 452.5,777.7 496.5,782.4 511.5,783.2 542.5,783.4 556.5,784.5 565.5,785.9 575.5,788.4 606.0,798.4 616.0,801.3 626.0,803.7 637.0,805.7 657.5,808.2 695.5,811.4 725.0,813.5 750.0,814.6" fill="none" stroke="#9c9c9c" stroke-width="11.5" stroke-linejoin="round"/>
<path d="M140.0,300.4 171.0,443.5 187.0,522.1 190.0,534.3 193.0,544.5 196.5,554.6 200.5,564.2 206.0,575.1 211.0,583.1 213.5,586.1 215.5,587.9 217.5,589.3 220.0,590.5 222.0,590.9 224.5,590.8 227.0,590.3 229.5,589.3 234.5,586.5 244.0,579.4 248.0,576.8 252.0,575.0 255.5,574.3 258.0,574.5 260.5,575.2 263.5,576.5 266.5,578.2 272.5,583.0 277.5,588.6 281.0,593.8 284.0,599.4 287.0,606.4 290.0,615.0 295.5,634.9 303.5,669.7 307.0,683.7 311.0,697.2 315.5,709.6 321.5,722.7 325.0,729.0 328.5,734.6 332.5,740.3 336.5,745.2 340.5,749.5 344.5,753.2 349.0,756.6 353.5,759.5 358.5,762.0 364.5,764.3 371.5,766.5 380.0,768.7 398.0,772.1 415.5,774.3 452.5,777.7 496.5,782.4 511.5,783.2 542.5,783.4 556.5,784.5 565.5,785.9 575.5,788.4 606.0,798.4 616.0,801.3 626.0,803.7 637.0,805.7 657.5,808.2 695.5,811.4 725.0,813.5 750.0,814.6" fill="none" stroke="#6c6c6c" stroke-width="8" stroke-linejoin="round"/>
<path d="M140.0,300.4 171.0,443.5 187.0,522.1 190.0,534.3 193.0,544.5 196.5,554.6 200.5,564.2 206.0,575.1 211.0,583.1 213.5,586.1 215.5,587.9 217.5,589.3 220.0,590.5 222.0,590.9 224.5,590.8 227.0,590.3 229.5,589.3 234.5,586.5 244.0,579.4 248.0,576.8 252.0,575.0 255.5,574.3 258.0,574.5 260.5,575.2 263.5,576.5 266.5,578.2 272.5,583.0 277.5,588.6 281.0,593.8 284.0,599.4 287.0,606.4 290.0,615.0 295.5,634.9 303.5,669.7 307.0,683.7 311.0,697.2 315.5,709.6 321.5,722.7 325.0,729.0 328.5,734.6 332.5,740.3 336.5,745.2 340.5,749.5 344.5,753.2 349.0,756.6 353.5,759.5 358.5,762.0 364.5,764.3 371.5,766.5 380.0,768.7 398.0,772.1 415.5,774.3 452.5,777.7 496.5,782.4 511.5,783.2 542.5,783.4 556.5,784.5 565.5,785.9 575.5,788.4 606.0,798.4 616.0,801.3 626.0,803.7 637.0,805.7 657.5,808.2 695.5,811.4 725.0,813.5 750.0,814.6" fill="none" stroke="#555" stroke-width="6" stroke-linejoin="round"/>
</g>
<path d="M140.0,391.6 145.0,425.1 156.5,510.2 160.5,535.6 164.5,557.6 168.5,576.1 173.0,592.3 175.5,599.6 178.5,607.2 184.5,619.6 188.5,625.6 190.5,627.8 192.5,629.5 194.5,630.7 197.0,631.8 199.5,632.5 202.5,632.8 205.5,632.7 208.0,632.3 211.0,631.3 213.5,630.0 216.0,628.2 218.0,626.3 222.0,621.2 225.5,615.0 228.5,608.6 231.0,601.9 233.5,593.5 236.5,579.6 242.0,546.2 244.5,535.1 247.5,524.7 250.5,516.1 253.5,509.6 255.0,507.6 256.0,506.8 257.0,506.6 258.5,507.3 260.5,510.2 263.0,516.4 265.5,525.2 267.5,534.4 270.0,551.1 276.5,610.6 280.0,636.8 282.5,651.6 285.5,666.3 288.5,678.5 291.5,688.6 295.5,699.5 299.5,708.3 304.0,716.4 309.0,723.7 314.5,730.2 321.0,736.4 328.0,741.9 336.0,747.0" fill="none" stroke="#c00000" stroke-width="1.3" stroke-linejoin="round" stroke-linecap="round" />
<path d="M186.0,622.1 189.5,626.8 193.0,629.8 197.0,631.8 202.0,632.8 207.0,632.5 212.0,630.8 216.0,628.2 220.0,624.0M251.0,514.8 254.0,508.9 255.5,507.2 257.0,506.6 258.5,507.3 260.0,509.3 261.5,512.4 263.0,516.4" fill="none" stroke="#c00000" stroke-width="2.5" stroke-linejoin="round" stroke-linecap="round" />
<clipPath id="bf4"><path d="M532.0,779.0 538.0,782.5 544.0,785.5 550.5,788.2 557.5,790.6 565.5,792.9 574.5,795.0 596.0,799.0 L596.0,795.1 577.0,788.8 563.5,785.5 557.0,784.5 549.5,783.8 532.0,783.3Z"/></clipPath>
<path d="M532.0,779.0 538.0,782.5 544.0,785.5 550.5,788.2 557.5,790.6 565.5,792.9 574.5,795.0 596.0,799.0 L596.0,795.1 577.0,788.8 563.5,785.5 557.0,784.5 549.5,783.8 532.0,783.3Z" fill="#e4e4e4" stroke="none"/>
<g clip-path="url(#bf4)">
<path d="M532.0,783.3 549.5,783.8 557.0,784.5 563.5,785.5 577.0,788.8 596.0,795.1" fill="none" stroke="#b0b0b0" stroke-width="6" stroke-linejoin="round"/>
</g>
<path d="M424.0,760.9 436.5,761.4 450.0,762.4 504.0,768.3 511.5,769.7 517.5,771.4 523.0,773.7 528.0,776.5M538.0,782.5 548.5,787.4 560.0,791.4 574.5,795.0 592.0,798.3" fill="none" stroke="#d04040" stroke-width="1.0" stroke-linejoin="round" stroke-linecap="round" />
<path d="M140.0,300.4 171.0,443.5 187.0,522.1 190.0,534.3 193.0,544.5 196.5,554.6 200.5,564.2 206.0,575.1 211.0,583.1 213.5,586.1 215.5,587.9 217.5,589.3 220.0,590.5 222.0,590.9 224.5,590.8 227.0,590.3 229.5,589.3 234.5,586.5 244.0,579.4 248.0,576.8 252.0,575.0 255.5,574.3 258.0,574.5 260.5,575.2 263.5,576.5 266.5,578.2 272.5,583.0 277.5,588.6 281.0,593.8 284.0,599.4 287.0,606.4 290.0,615.0 295.5,634.9 303.5,669.7 307.0,683.7 311.0,697.2 315.5,709.6 321.5,722.7 325.0,729.0 328.5,734.6 332.5,740.3 336.5,745.2 340.5,749.5 344.5,753.2 349.0,756.6 353.5,759.5 358.5,762.0 364.5,764.3 371.5,766.5 380.0,768.7 398.0,772.1 415.5,774.3 452.5,777.7 496.5,782.4 511.5,783.2 542.5,783.4 556.5,784.5 565.5,785.9 575.5,788.4 606.0,798.4 616.0,801.3 626.0,803.7 637.0,805.7 657.5,808.2 695.5,811.4 725.0,813.5 750.0,814.6" fill="none" stroke="#0070c0" stroke-width="3.4" stroke-linejoin="round" stroke-linecap="round" />
</g>
<path d="M116,467.5 L116,821 L749.3,821" fill="none" stroke="#000" stroke-width="1.6"/>
<line x1="107.5" y1="821" x2="116" y2="821" stroke="#000" stroke-width="1.6"/>
<line x1="107.5" y1="703.2" x2="116" y2="703.2" stroke="#000" stroke-width="1.6"/>
<line x1="107.5" y1="585.3" x2="116" y2="585.3" stroke="#000" stroke-width="1.6"/>
<line x1="107.5" y1="467.5" x2="116" y2="467.5" stroke="#000" stroke-width="1.6"/>
<line x1="116" y1="821" x2="116" y2="829.5" stroke="#000" stroke-width="1.6"/>
<line x1="296.9" y1="821" x2="296.9" y2="829.5" stroke="#000" stroke-width="1.6"/>
<line x1="477.8" y1="821" x2="477.8" y2="829.5" stroke="#000" stroke-width="1.6"/>
<line x1="658.7" y1="821" x2="658.7" y2="829.5" stroke="#000" stroke-width="1.6"/>
<text x="90.2" y="830.6" font-size="29.5" text-anchor="end" font-weight="bold" fill="#000"  style="">0</text>
<text x="90.2" y="712.8" font-size="29.5" text-anchor="end" font-weight="bold" fill="#000"  style="">0.1</text>
<text x="90.2" y="594.9" font-size="29.5" text-anchor="end" font-weight="bold" fill="#000"  style="">0.2</text>
<text x="90.2" y="477.1" font-size="29.5" text-anchor="end" font-weight="bold" fill="#000"  style="">0.3</text>
<text x="116.0" y="865.5" font-size="29.5" text-anchor="middle" font-weight="bold" fill="#000"  style="">350</text>
<text x="296.9" y="865.5" font-size="29.5" text-anchor="middle" font-weight="bold" fill="#000"  style="">450</text>
<text x="477.8" y="865.5" font-size="29.5" text-anchor="middle" font-weight="bold" fill="#000"  style="">550</text>
<text x="658.7" y="865.5" font-size="29.5" text-anchor="middle" font-weight="bold" fill="#000"  style="">650</text>
<text x="432.3" y="896.5" font-size="29" text-anchor="middle" font-weight="bold" fill="#000"  style="">Wavelength (nm)</text>
<text transform="translate(41.8,668.1) rotate(-90)" x="0" y="0" font-size="29.6" text-anchor="middle" font-weight="bold" >Absorbance</text>
<text x="239.0" y="490.4" font-size="25" text-anchor="start" font-weight="bold" fill="#000"  style="">425</text>
<text x="417.6" y="700.6" font-size="25.4" text-anchor="start" font-weight="bold" fill="#000"  style="">530</text>
<text x="543.4" y="735.2" font-size="25.4" text-anchor="start" font-weight="bold" fill="#000"  style="">590</text>
<line x1="256.9" y1="512.5" x2="256.9" y2="562.6" stroke="#000" stroke-width="1.3"/>
<path d="M251.89999999999998,562.1 L261.9,562.1 L256.9,571.6Z" fill="#000"/>
<line x1="439.2" y1="707.3" x2="439.2" y2="740.6" stroke="#6e6e6e" stroke-width="1.3"/>
<path d="M434.2,740.1 L444.2,740.1 L439.2,749.6Z" fill="#000"/>
<line x1="564.4" y1="765.5" x2="564.4" y2="754.4" stroke="#000" stroke-width="1.3"/>
<path d="M559.4,754.9 L569.4,754.9 L564.4,745.4Z" fill="#000"/>
<g clip-path="url(#cc)">
<clipPath id="bf5"><path d="M127.0,946.6 134.5,1007.9 138.5,1036.0 141.0,1050.9 144.0,1066.4 150.0,1092.0 153.5,1104.4 156.5,1113.8 159.0,1120.2 162.0,1126.3 165.5,1131.8 169.5,1136.5 174.0,1140.3 179.0,1143.2 182.5,1144.6 186.0,1145.6 189.5,1146.1 193.0,1146.1 196.0,1145.6 199.0,1144.7 201.5,1143.5 204.5,1141.5 207.5,1139.0 211.0,1135.4 218.5,1126.0 225.0,1115.6 230.0,1105.3 233.0,1097.4 236.0,1087.6 238.5,1076.9 240.5,1065.9 243.0,1047.1 247.5,1005.4 251.0,982.3 252.5,965.1 253.0,961.9 254.0,958.2 256.0,954.2 257.5,952.3 259.0,951.1 260.5,950.4 261.5,950.4 263.0,951.0 264.5,952.7 266.0,955.3 268.5,960.7 272.0,970.5 275.0,982.3 277.5,996.7 284.0,1047.3 289.0,1078.8 293.0,1100.9 297.5,1123.6 302.5,1146.9 305.5,1158.8 307.5,1165.2 310.0,1171.9 313.0,1178.3 316.0,1183.6 319.5,1188.5 323.0,1192.6 327.0,1196.3 331.0,1199.1 336.5,1201.6 343.0,1203.0 380.0,1206.7 391.0,1207.4 397.5,1207.3 405.0,1206.8 435.0,1203.0 451.0,1201.9 474.5,1201.7 498.0,1202.2 508.0,1202.8 518.5,1204.2 527.0,1206.5 532.5,1208.7 548.5,1216.7 555.0,1219.3 561.5,1221.4 574.0,1224.6 588.0,1226.9 602.5,1228.5 618.5,1229.5 682.5,1231.3 696.5,1232.1 727.0,1234.3 744.0,1234.7 L744.0,1236.3 724.5,1235.6 672.5,1235.0 657.5,1234.2 644.0,1232.8 630.5,1230.7 616.0,1227.5 562.5,1213.3 553.0,1211.5 544.5,1210.5 537.5,1210.3 530.5,1210.8 525.0,1211.7 511.5,1214.7 503.5,1215.4 494.0,1214.7 471.0,1211.2 464.5,1210.8 457.5,1210.9 444.5,1212.1 413.0,1216.5 405.0,1217.1 397.5,1217.3 387.5,1216.7 377.5,1215.0 368.0,1212.4 359.5,1208.9 354.0,1206.0 349.0,1202.9 344.5,1199.4 340.5,1195.8 336.5,1191.4 333.0,1186.8 330.0,1182.0 327.0,1176.4 323.0,1167.1 319.0,1155.2 315.5,1142.3 307.5,1109.3 302.5,1090.6 296.0,1068.9 289.5,1050.1 286.5,1042.7 283.0,1035.0 279.5,1028.4 276.0,1022.6 272.0,1016.8 267.5,1011.3 264.5,1008.6 262.0,1007.5 261.0,1007.4 259.5,1007.9 256.5,1010.2 253.5,1014.2 251.0,1018.8 247.5,1028.0 238.0,1059.7 233.0,1074.1 230.0,1081.3 226.5,1088.4 222.5,1095.3 218.5,1101.1 213.0,1108.0 206.5,1114.7 199.5,1120.7 192.5,1125.5 185.0,1129.7 179.5,1131.8 177.0,1132.2 175.0,1132.2 173.0,1131.8 171.0,1131.1 167.0,1128.5 163.5,1125.1 160.0,1120.5 157.5,1116.0 155.5,1111.2 153.5,1105.2 147.5,1082.7 142.0,1056.6 137.5,1029.6 134.0,1003.9 127.0,946.4Z"/></clipPath>
<path d="M127.0,946.6 134.5,1007.9 138.5,1036.0 141.0,1050.9 144.0,1066.4 150.0,1092.0 153.5,1104.4 156.5,1113.8 159.0,1120.2 162.0,1126.3 165.5,1131.8 169.5,1136.5 174.0,1140.3 179.0,1143.2 182.5,1144.6 186.0,1145.6 189.5,1146.1 193.0,1146.1 196.0,1145.6 199.0,1144.7 201.5,1143.5 204.5,1141.5 207.5,1139.0 211.0,1135.4 218.5,1126.0 225.0,1115.6 230.0,1105.3 233.0,1097.4 236.0,1087.6 238.5,1076.9 240.5,1065.9 243.0,1047.1 247.5,1005.4 251.0,982.3 252.5,965.1 253.0,961.9 254.0,958.2 256.0,954.2 257.5,952.3 259.0,951.1 260.5,950.4 261.5,950.4 263.0,951.0 264.5,952.7 266.0,955.3 268.5,960.7 272.0,970.5 275.0,982.3 277.5,996.7 284.0,1047.3 289.0,1078.8 293.0,1100.9 297.5,1123.6 302.5,1146.9 305.5,1158.8 307.5,1165.2 310.0,1171.9 313.0,1178.3 316.0,1183.6 319.5,1188.5 323.0,1192.6 327.0,1196.3 331.0,1199.1 336.5,1201.6 343.0,1203.0 380.0,1206.7 391.0,1207.4 397.5,1207.3 405.0,1206.8 435.0,1203.0 451.0,1201.9 474.5,1201.7 498.0,1202.2 508.0,1202.8 518.5,1204.2 527.0,1206.5 532.5,1208.7 548.5,1216.7 555.0,1219.3 561.5,1221.4 574.0,1224.6 588.0,1226.9 602.5,1228.5 618.5,1229.5 682.5,1231.3 696.5,1232.1 727.0,1234.3 744.0,1234.7 L744.0,1236.3 724.5,1235.6 672.5,1235.0 657.5,1234.2 644.0,1232.8 630.5,1230.7 616.0,1227.5 562.5,1213.3 553.0,1211.5 544.5,1210.5 537.5,1210.3 530.5,1210.8 525.0,1211.7 511.5,1214.7 503.5,1215.4 494.0,1214.7 471.0,1211.2 464.5,1210.8 457.5,1210.9 444.5,1212.1 413.0,1216.5 405.0,1217.1 397.5,1217.3 387.5,1216.7 377.5,1215.0 368.0,1212.4 359.5,1208.9 354.0,1206.0 349.0,1202.9 344.5,1199.4 340.5,1195.8 336.5,1191.4 333.0,1186.8 330.0,1182.0 327.0,1176.4 323.0,1167.1 319.0,1155.2 315.5,1142.3 307.5,1109.3 302.5,1090.6 296.0,1068.9 289.5,1050.1 286.5,1042.7 283.0,1035.0 279.5,1028.4 276.0,1022.6 272.0,1016.8 267.5,1011.3 264.5,1008.6 262.0,1007.5 261.0,1007.4 259.5,1007.9 256.5,1010.2 253.5,1014.2 251.0,1018.8 247.5,1028.0 238.0,1059.7 233.0,1074.1 230.0,1081.3 226.5,1088.4 222.5,1095.3 218.5,1101.1 213.0,1108.0 206.5,1114.7 199.5,1120.7 192.5,1125.5 185.0,1129.7 179.5,1131.8 177.0,1132.2 175.0,1132.2 173.0,1131.8 171.0,1131.1 167.0,1128.5 163.5,1125.1 160.0,1120.5 157.5,1116.0 155.5,1111.2 153.5,1105.2 147.5,1082.7 142.0,1056.6 137.5,1029.6 134.0,1003.9 127.0,946.4Z" fill="#e3e3e3" stroke="none"/>
<g clip-path="url(#bf5)">
<path d="M127.0,946.6 134.5,1007.9 138.5,1036.0 141.0,1050.9 144.0,1066.4 150.0,1092.0 153.5,1104.4 156.5,1113.8 159.0,1120.2 162.0,1126.3 165.5,1131.8 169.5,1136.5 174.0,1140.3 179.0,1143.2 182.5,1144.6 186.0,1145.6 189.5,1146.1 193.0,1146.1 196.0,1145.6 199.0,1144.7 201.5,1143.5 204.5,1141.5 207.5,1139.0 211.0,1135.4 218.5,1126.0 225.0,1115.6 230.0,1105.3 233.0,1097.4 236.0,1087.6 238.5,1076.9 240.5,1065.9 243.0,1047.1 247.5,1005.4 251.0,982.3 252.5,965.1 253.0,961.9 254.0,958.2 256.0,954.2 257.5,952.3 259.0,951.1 260.5,950.4 261.5,950.4 263.0,951.0 264.5,952.7 266.0,955.3 268.5,960.7 272.0,970.5 275.0,982.3 277.5,996.7 284.0,1047.3 289.0,1078.8 293.0,1100.9 297.5,1123.6 302.5,1146.9 305.5,1158.8 307.5,1165.2 310.0,1171.9 313.0,1178.3 316.0,1183.6 319.5,1188.5 323.0,1192.6 327.0,1196.3 331.0,1199.1 336.5,1201.6 343.0,1203.0 380.0,1206.7 391.0,1207.4 397.5,1207.3 405.0,1206.8 435.0,1203.0 451.0,1201.9 474.5,1201.7 498.0,1202.2 508.0,1202.8 518.5,1204.2 527.0,1206.5 532.5,1208.7 548.5,1216.7 555.0,1219.3 561.5,1221.4 574.0,1224.6 588.0,1226.9 602.5,1228.5 618.5,1229.5 682.5,1231.3 696.5,1232.1 727.0,1234.3 744.0,1234.7" fill="none" stroke="#d6d6d6" stroke-width="5" stroke-linejoin="round"/>
<path d="M127.0,946.4 134.0,1003.9 137.5,1029.6 142.0,1056.6 147.5,1082.7 153.5,1105.2 155.5,1111.2 157.5,1116.0 160.0,1120.5 163.5,1125.1 167.0,1128.5 171.0,1131.1 173.0,1131.8 175.0,1132.2 177.0,1132.2 179.5,1131.8 185.0,1129.7 192.5,1125.5 199.5,1120.7 206.5,1114.7 213.0,1108.0 218.5,1101.1 222.5,1095.3 226.5,1088.4 230.0,1081.3 233.0,1074.1 238.0,1059.7 247.5,1028.0 251.0,1018.8 253.5,1014.2 256.5,1010.2 259.5,1007.9 261.0,1007.4 262.0,1007.5 264.5,1008.6 267.5,1011.3 272.0,1016.8 276.0,1022.6 279.5,1028.4 283.0,1035.0 286.5,1042.7 289.5,1050.1 296.0,1068.9 302.5,1090.6 307.5,1109.3 315.5,1142.3 319.0,1155.2 323.0,1167.1 327.0,1176.4 330.0,1182.0 333.0,1186.8 336.5,1191.4 340.5,1195.8 344.5,1199.4 349.0,1202.9 354.0,1206.0 359.5,1208.9 368.0,1212.4 377.5,1215.0 387.5,1216.7 397.5,1217.3 405.0,1217.1 413.0,1216.5 444.5,1212.1 457.5,1210.9 464.5,1210.8 471.0,1211.2 494.0,1214.7 503.5,1215.4 511.5,1214.7 525.0,1211.7 530.5,1210.8 537.5,1210.3 544.5,1210.5 553.0,1211.5 562.5,1213.3 616.0,1227.5 630.5,1230.7 644.0,1232.8 657.5,1234.2 672.5,1235.0 724.5,1235.6 744.0,1236.3" fill="none" stroke="#dadada" stroke-width="12" stroke-linejoin="round"/>
<path d="M127.0,946.4 134.0,1003.9 137.5,1029.6 142.0,1056.6 147.5,1082.7 153.5,1105.2 155.5,1111.2 157.5,1116.0 160.0,1120.5 163.5,1125.1 167.0,1128.5 171.0,1131.1 173.0,1131.8 175.0,1132.2 177.0,1132.2 179.5,1131.8 185.0,1129.7 192.5,1125.5 199.5,1120.7 206.5,1114.7 213.0,1108.0 218.5,1101.1 222.5,1095.3 226.5,1088.4 230.0,1081.3 233.0,1074.1 238.0,1059.7 247.5,1028.0 251.0,1018.8 253.5,1014.2 256.5,1010.2 259.5,1007.9 261.0,1007.4 262.0,1007.5 264.5,1008.6 267.5,1011.3 272.0,1016.8 276.0,1022.6 279.5,1028.4 283.0,1035.0 286.5,1042.7 289.5,1050.1 296.0,1068.9 302.5,1090.6 307.5,1109.3 315.5,1142.3 319.0,1155.2 323.0,1167.1 327.0,1176.4 330.0,1182.0 333.0,1186.8 336.5,1191.4 340.5,1195.8 344.5,1199.4 349.0,1202.9 354.0,1206.0 359.5,1208.9 368.0,1212.4 377.5,1215.0 387.5,1216.7 397.5,1217.3 405.0,1217.1 413.0,1216.5 444.5,1212.1 457.5,1210.9 464.5,1210.8 471.0,1211.2 494.0,1214.7 503.5,1215.4 511.5,1214.7 525.0,1211.7 530.5,1210.8 537.5,1210.3 544.5,1210.5 553.0,1211.5 562.5,1213.3 616.0,1227.5 630.5,1230.7 644.0,1232.8 657.5,1234.2 672.5,1235.0 724.5,1235.6 744.0,1236.3" fill="none" stroke="#c8c8c8" stroke-width="8" stroke-linejoin="round"/>
</g>
<path d="M160.0,1122.4 163.0,1128.1 166.0,1132.5 169.5,1136.5 173.5,1139.9 178.0,1142.7 183.0,1144.8 188.0,1145.9 192.5,1146.1 196.0,1145.6 199.5,1144.5 203.0,1142.6 206.5,1139.9 210.5,1136.0 215.0,1130.7 219.0,1125.3 223.0,1119.1 228.0,1109.7 232.5,1098.8 236.0,1087.6 239.0,1074.4 241.0,1062.6 242.5,1051.4 247.0,1009.5 251.0,982.3 252.5,965.1 253.0,961.9 254.5,956.9 256.5,953.5 258.0,951.9 259.5,950.8 261.0,950.4 262.0,950.5 263.5,951.4 265.0,953.4 269.0,962.0 272.5,972.2 275.0,982.3 277.5,996.7 284.0,1047.3 289.0,1078.8 297.0,1121.1 302.0,1144.7 305.0,1157.0M538.0,1211.5 546.0,1215.6 554.5,1219.1 563.5,1222.0 573.5,1224.4 584.0,1226.3 596.0,1227.9 609.5,1229.0 625.0,1229.8" fill="none" stroke="#5a5a5a" stroke-width="1.1" stroke-linejoin="round" stroke-linecap="round" />
<path d="M127.0,932.4 132.0,978.0 135.5,1005.9 139.5,1032.6 144.0,1057.4 149.0,1079.9 154.0,1098.1 159.5,1113.4 162.5,1120.3 166.0,1127.3" fill="none" stroke="#c00000" stroke-width="1.1" stroke-linejoin="round" stroke-linecap="round" />
<path d="M263.0,956.3 264.0,955.7 265.0,955.6 266.0,956.0 267.0,957.0 268.5,959.0 270.0,961.8 272.0,967.2 273.0,971.3 278.0,997.8 290.0,1050.2M308.0,1157.3 311.0,1167.4 314.0,1175.7 317.5,1183.2 321.0,1188.8 325.0,1193.6 329.5,1197.4 334.5,1200.3 340.0,1202.3" fill="none" stroke="#c00000" stroke-width="1.8" stroke-linejoin="round" stroke-linecap="round" />
<path d="M460.0,1201.2 471.5,1200.7 482.5,1200.7 492.5,1201.1 502.0,1202.0 511.0,1203.3 519.5,1205.0 527.5,1207.3 535.0,1209.9M545.0,1214.4 563.5,1223.0 570.0,1225.3 576.0,1226.8 582.0,1227.8 589.0,1228.4 620.0,1229.5" fill="none" stroke="#c83030" stroke-width="1.1" stroke-linejoin="round" stroke-linecap="round" />
<path d="M160.0,1118.9 164.5,1124.6 167.0,1126.9 169.5,1128.7 172.0,1129.9 174.0,1130.5 176.5,1130.6 179.0,1130.3 182.0,1129.4 186.0,1127.6 191.0,1124.9 196.0,1121.6 204.5,1114.9 212.0,1107.5 217.5,1100.9 222.5,1093.7 227.0,1085.9 231.0,1077.4 236.5,1062.8 247.0,1027.9 249.5,1020.7 251.5,1016.2 254.0,1011.8 257.0,1008.1 259.5,1006.3 261.0,1005.8 262.0,1005.9 264.5,1007.0 267.5,1009.7 272.0,1015.2 276.0,1021.0 279.5,1026.8 283.0,1033.4 286.5,1041.1 289.5,1048.5 296.0,1067.3 302.5,1089.0 307.5,1107.7 315.5,1140.7 319.0,1153.6 323.0,1165.5 327.0,1174.8 330.0,1180.4 333.0,1185.2 336.5,1189.8 340.5,1194.2 344.5,1197.8 349.0,1201.3 354.0,1204.4 359.5,1207.3 368.0,1210.8 377.5,1213.4 387.5,1215.1 397.5,1215.7 405.0,1215.5 413.0,1214.9 444.5,1210.5 457.5,1209.3 464.5,1209.2 471.0,1209.6 494.0,1213.1 503.5,1213.8 511.5,1213.1 525.0,1210.1 530.5,1209.2 537.5,1208.7 544.5,1208.9 553.0,1209.9 562.5,1211.7 616.0,1225.9 630.5,1229.1 644.0,1231.2 657.5,1232.6 672.5,1233.4 724.5,1234.0 744.0,1234.7" fill="none" stroke="#666" stroke-width="2.2" stroke-linejoin="round" stroke-linecap="round" />
<path d="M127.0,946.4 134.0,1003.9 137.5,1029.6 142.0,1056.6 147.5,1082.7 153.5,1105.2 155.5,1111.2 157.5,1116.0 160.0,1120.5 163.5,1125.1 167.0,1128.5 171.0,1131.1 173.0,1131.8 175.0,1132.2 177.0,1132.2 179.5,1131.8 185.0,1129.7 192.5,1125.5 199.5,1120.7 206.5,1114.7 213.0,1108.0 218.5,1101.1 222.5,1095.3 226.5,1088.4 230.0,1081.3 233.0,1074.1 238.0,1059.7 247.5,1028.0 251.0,1018.8 253.5,1014.2 256.5,1010.2 259.5,1007.9 261.0,1007.4 262.0,1007.5 264.5,1008.6 267.5,1011.3 272.0,1016.8 276.0,1022.6 279.5,1028.4 283.0,1035.0 286.5,1042.7 289.5,1050.1 296.0,1068.9 302.5,1090.6 307.5,1109.3 315.5,1142.3 319.0,1155.2 323.0,1167.1 327.0,1176.4 330.0,1182.0 333.0,1186.8 336.5,1191.4 340.5,1195.8 344.5,1199.4 349.0,1202.9 354.0,1206.0 359.5,1208.9 368.0,1212.4 377.5,1215.0 387.5,1216.7 397.5,1217.3 405.0,1217.1 413.0,1216.5 444.5,1212.1 457.5,1210.9 464.5,1210.8 471.0,1211.2 494.0,1214.7 503.5,1215.4 511.5,1214.7 525.0,1211.7 530.5,1210.8 537.5,1210.3 544.5,1210.5 553.0,1211.5 562.5,1213.3 616.0,1227.5 630.5,1230.7 644.0,1232.8 657.5,1234.2 672.5,1235.0 724.5,1235.6 744.0,1236.3" fill="none" stroke="#0070c0" stroke-width="3.4" stroke-linejoin="round" stroke-linecap="round" />
</g>
<path d="M126.8,926.3 L126.8,1246.8 L743.9,1246.8" fill="none" stroke="#3c3c3c" stroke-width="1.8"/>
<line x1="118.3" y1="1246.7" x2="126.8" y2="1246.7" stroke="#3c3c3c" stroke-width="1.8"/>
<line x1="118.3" y1="1182.6200000000001" x2="126.8" y2="1182.6200000000001" stroke="#3c3c3c" stroke-width="1.8"/>
<line x1="118.3" y1="1118.54" x2="126.8" y2="1118.54" stroke="#3c3c3c" stroke-width="1.8"/>
<line x1="118.3" y1="1054.46" x2="126.8" y2="1054.46" stroke="#3c3c3c" stroke-width="1.8"/>
<line x1="118.3" y1="990.3800000000001" x2="126.8" y2="990.3800000000001" stroke="#3c3c3c" stroke-width="1.8"/>
<line x1="118.3" y1="926.3000000000001" x2="126.8" y2="926.3000000000001" stroke="#3c3c3c" stroke-width="1.8"/>
<line x1="126.8" y1="1246.8" x2="126.8" y2="1255.3" stroke="#3c3c3c" stroke-width="1.8"/>
<line x1="303" y1="1246.8" x2="303" y2="1255.3" stroke="#3c3c3c" stroke-width="1.8"/>
<line x1="479.3" y1="1246.8" x2="479.3" y2="1255.3" stroke="#3c3c3c" stroke-width="1.8"/>
<line x1="655.9" y1="1246.8" x2="655.9" y2="1255.3" stroke="#3c3c3c" stroke-width="1.8"/>
<text x="101.7" y="1256.3" font-size="29.5" text-anchor="end" font-weight="bold" fill="#000"  style="">0</text>
<text x="101.7" y="1192.2" font-size="29.5" text-anchor="end" font-weight="bold" fill="#000"  style="">0.05</text>
<text x="101.7" y="1128.1" font-size="29.5" text-anchor="end" font-weight="bold" fill="#000"  style="">0.1</text>
<text x="101.7" y="1064.1" font-size="29.5" text-anchor="end" font-weight="bold" fill="#000"  style="">0.15</text>
<text x="101.7" y="1000.0" font-size="29.5" text-anchor="end" font-weight="bold" fill="#000"  style="">0.2</text>
<text x="101.7" y="935.9" font-size="29.5" text-anchor="end" font-weight="bold" fill="#000"  style="">0.25</text>
<text x="127.2" y="1290.7" font-size="29.5" text-anchor="middle" font-weight="bold" fill="#000"  style="">350</text>
<text x="303.0" y="1290.7" font-size="29.5" text-anchor="middle" font-weight="bold" fill="#000"  style="">450</text>
<text x="479.3" y="1290.7" font-size="29.5" text-anchor="middle" font-weight="bold" fill="#000"  style="">550</text>
<text x="655.9" y="1290.7" font-size="29.5" text-anchor="middle" font-weight="bold" fill="#000"  style="">650</text>
<text x="435.0" y="1328.8" font-size="29" text-anchor="middle" font-weight="bold" fill="#000"  style="">Wavelength (nm)</text>
<text transform="translate(34.6,1086.6) rotate(-90)" x="0" y="0" font-size="29.6" text-anchor="middle" font-weight="bold" >Absorbance</text>
<g clip-path="url(#cd)">
<clipPath id="bf6"><path d="M904.0,1045.7 908.5,1060.2 913.0,1073.5 918.5,1088.4 923.0,1099.5 927.0,1108.1 931.0,1115.5 935.5,1122.6 939.5,1127.8 943.0,1131.1 946.5,1133.3 951.0,1134.9 955.5,1135.4 960.5,1135.1 966.0,1133.8 971.5,1131.6 977.0,1128.5 981.5,1125.1 985.5,1121.3 989.0,1117.2 992.5,1112.2 995.5,1107.0 998.5,1100.8 1004.5,1085.4 1009.0,1072.4 1012.5,1061.1 1015.5,1049.8 1017.5,1040.8 1020.0,1025.5 1023.5,989.6 1025.0,980.5 1026.5,974.2 1029.5,965.6 1033.0,959.0 1034.5,957.0 1036.0,955.7 1037.5,955.1 1039.0,955.3 1041.5,957.1 1044.0,960.1 1047.5,965.5 1051.0,972.0 1055.5,982.9 1057.5,989.2 1059.5,997.0 1065.5,1026.1 1070.5,1055.0 1074.0,1079.1 1079.0,1121.0 1081.0,1134.9 1083.5,1147.7 1087.0,1160.7 1090.0,1169.3 1093.0,1176.3 1097.0,1184.1 1101.0,1190.6 1105.5,1196.6 1110.0,1201.6 1114.5,1205.7 1119.5,1209.3 1123.0,1211.2 1126.5,1212.8 1130.0,1213.9 1134.0,1214.8 1140.0,1215.5 1154.5,1216.0 1168.5,1218.2 1174.0,1218.6 1182.0,1217.9 1208.0,1212.8 1218.5,1211.2 1228.5,1210.1 1239.0,1209.4 1249.5,1209.1 1260.0,1209.3 1269.5,1209.9 1282.0,1211.6 1293.5,1214.5 1302.5,1218.0 1320.0,1226.6 1327.5,1229.8 1337.5,1232.8 1348.0,1234.9 1357.5,1235.9 1368.0,1236.5 1405.0,1236.5 1419.5,1237.0 1435.5,1238.3 1477.0,1242.8 1489.0,1243.7 1500.0,1244.0 L1500.0,1238.2 1412.0,1234.4 1390.5,1232.8 1371.5,1230.7 1354.0,1227.9 1337.5,1224.2 1325.0,1220.6 1303.5,1213.2 1294.5,1210.8 1283.5,1208.6 1272.0,1207.2 1257.5,1206.4 1241.5,1206.7 1226.0,1207.8 1184.0,1211.9 1171.0,1212.6 1160.0,1212.7 1149.0,1212.0 1139.5,1210.4 1131.0,1207.7 1127.0,1206.0 1123.5,1204.0 1119.0,1200.8 1114.5,1196.6 1110.5,1192.0 1106.5,1186.3 1102.0,1178.8 1098.0,1170.9 1094.5,1163.1 1091.0,1153.8 1086.5,1139.0 1082.5,1121.1 1079.5,1102.9 1074.0,1060.3 1071.5,1043.5 1068.0,1025.1 1064.0,1008.8 1061.0,998.7 1057.5,988.5 1054.0,979.6 1050.0,970.8 1045.5,962.4 1041.5,956.2 1038.5,952.9 1037.0,951.8 1035.5,951.1 1034.0,950.9 1032.5,951.4 1031.0,952.8 1030.0,954.4 1027.0,961.7 1023.5,973.1 1020.0,989.0 1013.5,1029.1 1010.0,1047.7 1006.0,1064.1 1003.5,1072.3 1001.0,1079.3 998.5,1085.3 995.5,1091.5 992.0,1097.5 988.5,1102.6 984.5,1107.5 980.0,1112.2 975.0,1116.6 970.0,1120.3 964.5,1123.5 959.5,1125.7 954.5,1127.0 950.0,1127.2 946.0,1126.5 942.5,1125.0 938.5,1122.0 935.0,1118.2 931.5,1113.2 928.5,1108.0 925.5,1101.8 923.0,1095.8 909.5,1056.7 904.0,1038.2Z"/></clipPath>
<path d="M904.0,1045.7 908.5,1060.2 913.0,1073.5 918.5,1088.4 923.0,1099.5 927.0,1108.1 931.0,1115.5 935.5,1122.6 939.5,1127.8 943.0,1131.1 946.5,1133.3 951.0,1134.9 955.5,1135.4 960.5,1135.1 966.0,1133.8 971.5,1131.6 977.0,1128.5 981.5,1125.1 985.5,1121.3 989.0,1117.2 992.5,1112.2 995.5,1107.0 998.5,1100.8 1004.5,1085.4 1009.0,1072.4 1012.5,1061.1 1015.5,1049.8 1017.5,1040.8 1020.0,1025.5 1023.5,989.6 1025.0,980.5 1026.5,974.2 1029.5,965.6 1033.0,959.0 1034.5,957.0 1036.0,955.7 1037.5,955.1 1039.0,955.3 1041.5,957.1 1044.0,960.1 1047.5,965.5 1051.0,972.0 1055.5,982.9 1057.5,989.2 1059.5,997.0 1065.5,1026.1 1070.5,1055.0 1074.0,1079.1 1079.0,1121.0 1081.0,1134.9 1083.5,1147.7 1087.0,1160.7 1090.0,1169.3 1093.0,1176.3 1097.0,1184.1 1101.0,1190.6 1105.5,1196.6 1110.0,1201.6 1114.5,1205.7 1119.5,1209.3 1123.0,1211.2 1126.5,1212.8 1130.0,1213.9 1134.0,1214.8 1140.0,1215.5 1154.5,1216.0 1168.5,1218.2 1174.0,1218.6 1182.0,1217.9 1208.0,1212.8 1218.5,1211.2 1228.5,1210.1 1239.0,1209.4 1249.5,1209.1 1260.0,1209.3 1269.5,1209.9 1282.0,1211.6 1293.5,1214.5 1302.5,1218.0 1320.0,1226.6 1327.5,1229.8 1337.5,1232.8 1348.0,1234.9 1357.5,1235.9 1368.0,1236.5 1405.0,1236.5 1419.5,1237.0 1435.5,1238.3 1477.0,1242.8 1489.0,1243.7 1500.0,1244.0 L1500.0,1238.2 1412.0,1234.4 1390.5,1232.8 1371.5,1230.7 1354.0,1227.9 1337.5,1224.2 1325.0,1220.6 1303.5,1213.2 1294.5,1210.8 1283.5,1208.6 1272.0,1207.2 1257.5,1206.4 1241.5,1206.7 1226.0,1207.8 1184.0,1211.9 1171.0,1212.6 1160.0,1212.7 1149.0,1212.0 1139.5,1210.4 1131.0,1207.7 1127.0,1206.0 1123.5,1204.0 1119.0,1200.8 1114.5,1196.6 1110.5,1192.0 1106.5,1186.3 1102.0,1178.8 1098.0,1170.9 1094.5,1163.1 1091.0,1153.8 1086.5,1139.0 1082.5,1121.1 1079.5,1102.9 1074.0,1060.3 1071.5,1043.5 1068.0,1025.1 1064.0,1008.8 1061.0,998.7 1057.5,988.5 1054.0,979.6 1050.0,970.8 1045.5,962.4 1041.5,956.2 1038.5,952.9 1037.0,951.8 1035.5,951.1 1034.0,950.9 1032.5,951.4 1031.0,952.8 1030.0,954.4 1027.0,961.7 1023.5,973.1 1020.0,989.0 1013.5,1029.1 1010.0,1047.7 1006.0,1064.1 1003.5,1072.3 1001.0,1079.3 998.5,1085.3 995.5,1091.5 992.0,1097.5 988.5,1102.6 984.5,1107.5 980.0,1112.2 975.0,1116.6 970.0,1120.3 964.5,1123.5 959.5,1125.7 954.5,1127.0 950.0,1127.2 946.0,1126.5 942.5,1125.0 938.5,1122.0 935.0,1118.2 931.5,1113.2 928.5,1108.0 925.5,1101.8 923.0,1095.8 909.5,1056.7 904.0,1038.2Z" fill="#dedede" stroke="none"/>
<g clip-path="url(#bf6)">
<path d="M904.0,1045.7 908.5,1060.2 913.0,1073.5 918.5,1088.4 923.0,1099.5 927.0,1108.1 931.0,1115.5 935.5,1122.6 939.5,1127.8 943.0,1131.1 946.5,1133.3 951.0,1134.9 955.5,1135.4 960.5,1135.1 966.0,1133.8 971.5,1131.6 977.0,1128.5 981.5,1125.1 985.5,1121.3 989.0,1117.2 992.5,1112.2 995.5,1107.0 998.5,1100.8 1004.5,1085.4 1009.0,1072.4 1012.5,1061.1 1015.5,1049.8 1017.5,1040.8 1020.0,1025.5 1023.5,989.6 1025.0,980.5 1026.5,974.2 1029.5,965.6 1033.0,959.0 1034.5,957.0 1036.0,955.7 1037.5,955.1 1039.0,955.3 1041.5,957.1 1044.0,960.1 1047.5,965.5 1051.0,972.0 1055.5,982.9 1057.5,989.2 1059.5,997.0 1065.5,1026.1 1070.5,1055.0 1074.0,1079.1 1079.0,1121.0 1081.0,1134.9 1083.5,1147.7 1087.0,1160.7 1090.0,1169.3 1093.0,1176.3 1097.0,1184.1 1101.0,1190.6 1105.5,1196.6 1110.0,1201.6 1114.5,1205.7 1119.5,1209.3 1123.0,1211.2 1126.5,1212.8 1130.0,1213.9 1134.0,1214.8 1140.0,1215.5 1154.5,1216.0 1168.5,1218.2 1174.0,1218.6 1182.0,1217.9 1208.0,1212.8 1218.5,1211.2 1228.5,1210.1 1239.0,1209.4 1249.5,1209.1 1260.0,1209.3 1269.5,1209.9 1282.0,1211.6 1293.5,1214.5 1302.5,1218.0 1320.0,1226.6 1327.5,1229.8 1337.5,1232.8 1348.0,1234.9 1357.5,1235.9 1368.0,1236.5 1405.0,1236.5 1419.5,1237.0 1435.5,1238.3 1477.0,1242.8 1489.0,1243.7 1500.0,1244.0" fill="none" stroke="#eeeeee" stroke-width="3" stroke-linejoin="round"/>
<path d="M904.0,1038.2 909.5,1056.7 923.0,1095.8 925.5,1101.8 928.5,1108.0 931.5,1113.2 935.0,1118.2 938.5,1122.0 942.5,1125.0 946.0,1126.5 950.0,1127.2 954.5,1127.0 959.5,1125.7 964.5,1123.5 970.0,1120.3 975.0,1116.6 980.0,1112.2 984.5,1107.5 988.5,1102.6 992.0,1097.5 995.5,1091.5 998.5,1085.3 1001.0,1079.3 1003.5,1072.3 1006.0,1064.1 1010.0,1047.7 1013.5,1029.1 1020.0,989.0 1023.5,973.1 1027.0,961.7 1030.0,954.4 1031.0,952.8 1032.5,951.4 1034.0,950.9 1035.5,951.1 1037.0,951.8 1038.5,952.9 1041.5,956.2 1045.5,962.4 1050.0,970.8 1054.0,979.6 1057.5,988.5 1061.0,998.7 1064.0,1008.8 1068.0,1025.1 1071.5,1043.5 1074.0,1060.3 1079.5,1102.9 1082.5,1121.1 1086.5,1139.0 1091.0,1153.8 1094.5,1163.1 1098.0,1170.9 1102.0,1178.8 1106.5,1186.3 1110.5,1192.0 1114.5,1196.6 1119.0,1200.8 1123.5,1204.0 1127.0,1206.0 1131.0,1207.7 1139.5,1210.4 1149.0,1212.0 1160.0,1212.7 1171.0,1212.6 1184.0,1211.9 1226.0,1207.8 1241.5,1206.7 1257.5,1206.4 1272.0,1207.2 1283.5,1208.6 1294.5,1210.8 1303.5,1213.2 1325.0,1220.6 1337.5,1224.2 1354.0,1227.9 1371.5,1230.7 1390.5,1232.8 1412.0,1234.4 1500.0,1238.2" fill="none" stroke="#cfcfcf" stroke-width="14" stroke-linejoin="round"/>
<path d="M904.0,1038.2 909.5,1056.7 923.0,1095.8 925.5,1101.8 928.5,1108.0 931.5,1113.2 935.0,1118.2 938.5,1122.0 942.5,1125.0 946.0,1126.5 950.0,1127.2 954.5,1127.0 959.5,1125.7 964.5,1123.5 970.0,1120.3 975.0,1116.6 980.0,1112.2 984.5,1107.5 988.5,1102.6 992.0,1097.5 995.5,1091.5 998.5,1085.3 1001.0,1079.3 1003.5,1072.3 1006.0,1064.1 1010.0,1047.7 1013.5,1029.1 1020.0,989.0 1023.5,973.1 1027.0,961.7 1030.0,954.4 1031.0,952.8 1032.5,951.4 1034.0,950.9 1035.5,951.1 1037.0,951.8 1038.5,952.9 1041.5,956.2 1045.5,962.4 1050.0,970.8 1054.0,979.6 1057.5,988.5 1061.0,998.7 1064.0,1008.8 1068.0,1025.1 1071.5,1043.5 1074.0,1060.3 1079.5,1102.9 1082.5,1121.1 1086.5,1139.0 1091.0,1153.8 1094.5,1163.1 1098.0,1170.9 1102.0,1178.8 1106.5,1186.3 1110.5,1192.0 1114.5,1196.6 1119.0,1200.8 1123.5,1204.0 1127.0,1206.0 1131.0,1207.7 1139.5,1210.4 1149.0,1212.0 1160.0,1212.7 1171.0,1212.6 1184.0,1211.9 1226.0,1207.8 1241.5,1206.7 1257.5,1206.4 1272.0,1207.2 1283.5,1208.6 1294.5,1210.8 1303.5,1213.2 1325.0,1220.6 1337.5,1224.2 1354.0,1227.9 1371.5,1230.7 1390.5,1232.8 1412.0,1234.4 1500.0,1238.2" fill="none" stroke="#b8b8b8" stroke-width="10" stroke-linejoin="round"/>
<path d="M904.0,1038.2 909.5,1056.7 923.0,1095.8 925.5,1101.8 928.5,1108.0 931.5,1113.2 935.0,1118.2 938.5,1122.0 942.5,1125.0 946.0,1126.5 950.0,1127.2 954.5,1127.0 959.5,1125.7 964.5,1123.5 970.0,1120.3 975.0,1116.6 980.0,1112.2 984.5,1107.5 988.5,1102.6 992.0,1097.5 995.5,1091.5 998.5,1085.3 1001.0,1079.3 1003.5,1072.3 1006.0,1064.1 1010.0,1047.7 1013.5,1029.1 1020.0,989.0 1023.5,973.1 1027.0,961.7 1030.0,954.4 1031.0,952.8 1032.5,951.4 1034.0,950.9 1035.5,951.1 1037.0,951.8 1038.5,952.9 1041.5,956.2 1045.5,962.4 1050.0,970.8 1054.0,979.6 1057.5,988.5 1061.0,998.7 1064.0,1008.8 1068.0,1025.1 1071.5,1043.5 1074.0,1060.3 1079.5,1102.9 1082.5,1121.1 1086.5,1139.0 1091.0,1153.8 1094.5,1163.1 1098.0,1170.9 1102.0,1178.8 1106.5,1186.3 1110.5,1192.0 1114.5,1196.6 1119.0,1200.8 1123.5,1204.0 1127.0,1206.0 1131.0,1207.7 1139.5,1210.4 1149.0,1212.0 1160.0,1212.7 1171.0,1212.6 1184.0,1211.9 1226.0,1207.8 1241.5,1206.7 1257.5,1206.4 1272.0,1207.2 1283.5,1208.6 1294.5,1210.8 1303.5,1213.2 1325.0,1220.6 1337.5,1224.2 1354.0,1227.9 1371.5,1230.7 1390.5,1232.8 1412.0,1234.4 1500.0,1238.2" fill="none" stroke="#9a9a9a" stroke-width="7" stroke-linejoin="round"/>
<path d="M904.0,1038.2 909.5,1056.7 923.0,1095.8 925.5,1101.8 928.5,1108.0 931.5,1113.2 935.0,1118.2 938.5,1122.0 942.5,1125.0 946.0,1126.5 950.0,1127.2 954.5,1127.0 959.5,1125.7 964.5,1123.5 970.0,1120.3 975.0,1116.6 980.0,1112.2 984.5,1107.5 988.5,1102.6 992.0,1097.5 995.5,1091.5 998.5,1085.3 1001.0,1079.3 1003.5,1072.3 1006.0,1064.1 1010.0,1047.7 1013.5,1029.1 1020.0,989.0 1023.5,973.1 1027.0,961.7 1030.0,954.4 1031.0,952.8 1032.5,951.4 1034.0,950.9 1035.5,951.1 1037.0,951.8 1038.5,952.9 1041.5,956.2 1045.5,962.4 1050.0,970.8 1054.0,979.6 1057.5,988.5 1061.0,998.7 1064.0,1008.8 1068.0,1025.1 1071.5,1043.5 1074.0,1060.3 1079.5,1102.9 1082.5,1121.1 1086.5,1139.0 1091.0,1153.8 1094.5,1163.1 1098.0,1170.9 1102.0,1178.8 1106.5,1186.3 1110.5,1192.0 1114.5,1196.6 1119.0,1200.8 1123.5,1204.0 1127.0,1206.0 1131.0,1207.7 1139.5,1210.4 1149.0,1212.0 1160.0,1212.7 1171.0,1212.6 1184.0,1211.9 1226.0,1207.8 1241.5,1206.7 1257.5,1206.4 1272.0,1207.2 1283.5,1208.6 1294.5,1210.8 1303.5,1213.2 1325.0,1220.6 1337.5,1224.2 1354.0,1227.9 1371.5,1230.7 1390.5,1232.8 1412.0,1234.4 1500.0,1238.2" fill="none" stroke="#808080" stroke-width="5" stroke-linejoin="round"/>
</g>
<clipPath id="bf7"><path d="M904.0,1037.5 913.0,1065.5 919.0,1085.2 922.0,1093.9 924.5,1099.9 927.0,1105.1 930.0,1110.2 933.0,1114.4 937.0,1119.0 941.5,1122.9 946.0,1125.6 950.0,1126.8 954.0,1127.0 958.5,1126.1 963.5,1124.0 969.0,1120.8 973.5,1117.5 978.0,1113.5 982.0,1109.3 986.0,1104.4 990.0,1098.7 994.0,1092.2 997.5,1085.7 1001.0,1078.1 1004.0,1070.6 1007.0,1061.7 1009.5,1052.9 1012.0,1042.4 1014.0,1032.1 1016.0,1019.7 1021.0,981.1 1023.0,970.8 1025.0,963.6 1027.0,958.2 1029.5,953.0 1032.0,948.8 1034.5,945.6 1037.0,943.7 1039.5,942.7 1042.5,942.7 1045.5,943.3 1048.5,944.6 1051.5,946.9 1053.5,949.3 1055.5,952.7 1057.0,956.3 1058.5,960.9 1063.5,980.9 1067.0,999.1 1070.0,1019.3 1077.0,1083.4 1080.0,1105.6 1084.0,1127.0 1086.5,1137.3 1089.0,1146.2 1092.5,1156.7 1096.0,1165.5 1100.0,1173.8 1104.0,1180.9 1109.0,1188.2 1114.0,1194.3 1119.0,1199.2 1124.0,1203.0 1127.5,1205.1 1131.0,1206.7 1135.0,1208.0 1139.0,1209.0 1150.0,1210.5 1163.5,1211.1 1174.0,1210.9 1186.0,1210.0 1226.0,1205.2 1241.5,1203.8 1256.5,1203.3 1270.0,1203.9 1280.5,1205.4 1291.5,1207.8 1304.0,1211.3 1332.0,1220.5 1344.0,1224.0 1358.5,1227.4 1374.5,1230.2 1391.5,1232.3 1411.0,1233.8 1430.0,1234.6 1476.0,1236.1 1500.0,1237.5 L1500.0,1238.2 1412.0,1234.4 1390.5,1232.8 1371.5,1230.7 1354.0,1227.9 1337.5,1224.2 1325.0,1220.6 1303.5,1213.2 1294.5,1210.8 1283.5,1208.6 1272.0,1207.2 1257.5,1206.4 1241.5,1206.7 1226.0,1207.8 1184.0,1211.9 1171.0,1212.6 1160.0,1212.7 1149.0,1212.0 1139.5,1210.4 1131.0,1207.7 1127.0,1206.0 1123.5,1204.0 1119.0,1200.8 1114.5,1196.6 1110.5,1192.0 1106.5,1186.3 1102.0,1178.8 1098.0,1170.9 1094.5,1163.1 1091.0,1153.8 1086.5,1139.0 1082.5,1121.1 1079.5,1102.9 1074.0,1060.3 1071.5,1043.5 1068.0,1025.1 1064.0,1008.8 1061.0,998.7 1057.5,988.5 1054.0,979.6 1050.0,970.8 1045.5,962.4 1041.5,956.2 1038.5,952.9 1037.0,951.8 1035.5,951.1 1034.0,950.9 1032.5,951.4 1031.0,952.8 1030.0,954.4 1027.0,961.7 1023.5,973.1 1020.0,989.0 1013.5,1029.1 1010.0,1047.7 1006.0,1064.1 1003.5,1072.3 1001.0,1079.3 998.5,1085.3 995.5,1091.5 992.0,1097.5 988.5,1102.6 984.5,1107.5 980.0,1112.2 975.0,1116.6 970.0,1120.3 964.5,1123.5 959.5,1125.7 954.5,1127.0 950.0,1127.2 946.0,1126.5 942.5,1125.0 938.5,1122.0 935.0,1118.2 931.5,1113.2 928.5,1108.0 925.5,1101.8 923.0,1095.8 909.5,1056.7 904.0,1038.2Z"/></clipPath>
<path d="M904.0,1037.5 913.0,1065.5 919.0,1085.2 922.0,1093.9 924.5,1099.9 927.0,1105.1 930.0,1110.2 933.0,1114.4 937.0,1119.0 941.5,1122.9 946.0,1125.6 950.0,1126.8 954.0,1127.0 958.5,1126.1 963.5,1124.0 969.0,1120.8 973.5,1117.5 978.0,1113.5 982.0,1109.3 986.0,1104.4 990.0,1098.7 994.0,1092.2 997.5,1085.7 1001.0,1078.1 1004.0,1070.6 1007.0,1061.7 1009.5,1052.9 1012.0,1042.4 1014.0,1032.1 1016.0,1019.7 1021.0,981.1 1023.0,970.8 1025.0,963.6 1027.0,958.2 1029.5,953.0 1032.0,948.8 1034.5,945.6 1037.0,943.7 1039.5,942.7 1042.5,942.7 1045.5,943.3 1048.5,944.6 1051.5,946.9 1053.5,949.3 1055.5,952.7 1057.0,956.3 1058.5,960.9 1063.5,980.9 1067.0,999.1 1070.0,1019.3 1077.0,1083.4 1080.0,1105.6 1084.0,1127.0 1086.5,1137.3 1089.0,1146.2 1092.5,1156.7 1096.0,1165.5 1100.0,1173.8 1104.0,1180.9 1109.0,1188.2 1114.0,1194.3 1119.0,1199.2 1124.0,1203.0 1127.5,1205.1 1131.0,1206.7 1135.0,1208.0 1139.0,1209.0 1150.0,1210.5 1163.5,1211.1 1174.0,1210.9 1186.0,1210.0 1226.0,1205.2 1241.5,1203.8 1256.5,1203.3 1270.0,1203.9 1280.5,1205.4 1291.5,1207.8 1304.0,1211.3 1332.0,1220.5 1344.0,1224.0 1358.5,1227.4 1374.5,1230.2 1391.5,1232.3 1411.0,1233.8 1430.0,1234.6 1476.0,1236.1 1500.0,1237.5 L1500.0,1238.2 1412.0,1234.4 1390.5,1232.8 1371.5,1230.7 1354.0,1227.9 1337.5,1224.2 1325.0,1220.6 1303.5,1213.2 1294.5,1210.8 1283.5,1208.6 1272.0,1207.2 1257.5,1206.4 1241.5,1206.7 1226.0,1207.8 1184.0,1211.9 1171.0,1212.6 1160.0,1212.7 1149.0,1212.0 1139.5,1210.4 1131.0,1207.7 1127.0,1206.0 1123.5,1204.0 1119.0,1200.8 1114.5,1196.6 1110.5,1192.0 1106.5,1186.3 1102.0,1178.8 1098.0,1170.9 1094.5,1163.1 1091.0,1153.8 1086.5,1139.0 1082.5,1121.1 1079.5,1102.9 1074.0,1060.3 1071.5,1043.5 1068.0,1025.1 1064.0,1008.8 1061.0,998.7 1057.5,988.5 1054.0,979.6 1050.0,970.8 1045.5,962.4 1041.5,956.2 1038.5,952.9 1037.0,951.8 1035.5,951.1 1034.0,950.9 1032.5,951.4 1031.0,952.8 1030.0,954.4 1027.0,961.7 1023.5,973.1 1020.0,989.0 1013.5,1029.1 1010.0,1047.7 1006.0,1064.1 1003.5,1072.3 1001.0,1079.3 998.5,1085.3 995.5,1091.5 992.0,1097.5 988.5,1102.6 984.5,1107.5 980.0,1112.2 975.0,1116.6 970.0,1120.3 964.5,1123.5 959.5,1125.7 954.5,1127.0 950.0,1127.2 946.0,1126.5 942.5,1125.0 938.5,1122.0 935.0,1118.2 931.5,1113.2 928.5,1108.0 925.5,1101.8 923.0,1095.8 909.5,1056.7 904.0,1038.2Z" fill="#b0b0b0" stroke="none"/>
<g clip-path="url(#bf7)">
<path d="M904.0,1037.5 913.0,1065.5 919.0,1085.2 922.0,1093.9 924.5,1099.9 927.0,1105.1 930.0,1110.2 933.0,1114.4 937.0,1119.0 941.5,1122.9 946.0,1125.6 950.0,1126.8 954.0,1127.0 958.5,1126.1 963.5,1124.0 969.0,1120.8 973.5,1117.5 978.0,1113.5 982.0,1109.3 986.0,1104.4 990.0,1098.7 994.0,1092.2 997.5,1085.7 1001.0,1078.1 1004.0,1070.6 1007.0,1061.7 1009.5,1052.9 1012.0,1042.4 1014.0,1032.1 1016.0,1019.7 1021.0,981.1 1023.0,970.8 1025.0,963.6 1027.0,958.2 1029.5,953.0 1032.0,948.8 1034.5,945.6 1037.0,943.7 1039.5,942.7 1042.5,942.7 1045.5,943.3 1048.5,944.6 1051.5,946.9 1053.5,949.3 1055.5,952.7 1057.0,956.3 1058.5,960.9 1063.5,980.9 1067.0,999.1 1070.0,1019.3 1077.0,1083.4 1080.0,1105.6 1084.0,1127.0 1086.5,1137.3 1089.0,1146.2 1092.5,1156.7 1096.0,1165.5 1100.0,1173.8 1104.0,1180.9 1109.0,1188.2 1114.0,1194.3 1119.0,1199.2 1124.0,1203.0 1127.5,1205.1 1131.0,1206.7 1135.0,1208.0 1139.0,1209.0 1150.0,1210.5 1163.5,1211.1 1174.0,1210.9 1186.0,1210.0 1226.0,1205.2 1241.5,1203.8 1256.5,1203.3 1270.0,1203.9 1280.5,1205.4 1291.5,1207.8 1304.0,1211.3 1332.0,1220.5 1344.0,1224.0 1358.5,1227.4 1374.5,1230.2 1391.5,1232.3 1411.0,1233.8 1430.0,1234.6 1476.0,1236.1 1500.0,1237.5" fill="none" stroke="#c4c4c4" stroke-width="2.5" stroke-linejoin="round"/>
<path d="M904.0,1038.2 909.5,1056.7 923.0,1095.8 925.5,1101.8 928.5,1108.0 931.5,1113.2 935.0,1118.2 938.5,1122.0 942.5,1125.0 946.0,1126.5 950.0,1127.2 954.5,1127.0 959.5,1125.7 964.5,1123.5 970.0,1120.3 975.0,1116.6 980.0,1112.2 984.5,1107.5 988.5,1102.6 992.0,1097.5 995.5,1091.5 998.5,1085.3 1001.0,1079.3 1003.5,1072.3 1006.0,1064.1 1010.0,1047.7 1013.5,1029.1 1020.0,989.0 1023.5,973.1 1027.0,961.7 1030.0,954.4 1031.0,952.8 1032.5,951.4 1034.0,950.9 1035.5,951.1 1037.0,951.8 1038.5,952.9 1041.5,956.2 1045.5,962.4 1050.0,970.8 1054.0,979.6 1057.5,988.5 1061.0,998.7 1064.0,1008.8 1068.0,1025.1 1071.5,1043.5 1074.0,1060.3 1079.5,1102.9 1082.5,1121.1 1086.5,1139.0 1091.0,1153.8 1094.5,1163.1 1098.0,1170.9 1102.0,1178.8 1106.5,1186.3 1110.5,1192.0 1114.5,1196.6 1119.0,1200.8 1123.5,1204.0 1127.0,1206.0 1131.0,1207.7 1139.5,1210.4 1149.0,1212.0 1160.0,1212.7 1171.0,1212.6 1184.0,1211.9 1226.0,1207.8 1241.5,1206.7 1257.5,1206.4 1272.0,1207.2 1283.5,1208.6 1294.5,1210.8 1303.5,1213.2 1325.0,1220.6 1337.5,1224.2 1354.0,1227.9 1371.5,1230.7 1390.5,1232.8 1412.0,1234.4 1500.0,1238.2" fill="none" stroke="#a4a4a4" stroke-width="14" stroke-linejoin="round"/>
<path d="M904.0,1038.2 909.5,1056.7 923.0,1095.8 925.5,1101.8 928.5,1108.0 931.5,1113.2 935.0,1118.2 938.5,1122.0 942.5,1125.0 946.0,1126.5 950.0,1127.2 954.5,1127.0 959.5,1125.7 964.5,1123.5 970.0,1120.3 975.0,1116.6 980.0,1112.2 984.5,1107.5 988.5,1102.6 992.0,1097.5 995.5,1091.5 998.5,1085.3 1001.0,1079.3 1003.5,1072.3 1006.0,1064.1 1010.0,1047.7 1013.5,1029.1 1020.0,989.0 1023.5,973.1 1027.0,961.7 1030.0,954.4 1031.0,952.8 1032.5,951.4 1034.0,950.9 1035.5,951.1 1037.0,951.8 1038.5,952.9 1041.5,956.2 1045.5,962.4 1050.0,970.8 1054.0,979.6 1057.5,988.5 1061.0,998.7 1064.0,1008.8 1068.0,1025.1 1071.5,1043.5 1074.0,1060.3 1079.5,1102.9 1082.5,1121.1 1086.5,1139.0 1091.0,1153.8 1094.5,1163.1 1098.0,1170.9 1102.0,1178.8 1106.5,1186.3 1110.5,1192.0 1114.5,1196.6 1119.0,1200.8 1123.5,1204.0 1127.0,1206.0 1131.0,1207.7 1139.5,1210.4 1149.0,1212.0 1160.0,1212.7 1171.0,1212.6 1184.0,1211.9 1226.0,1207.8 1241.5,1206.7 1257.5,1206.4 1272.0,1207.2 1283.5,1208.6 1294.5,1210.8 1303.5,1213.2 1325.0,1220.6 1337.5,1224.2 1354.0,1227.9 1371.5,1230.7 1390.5,1232.8 1412.0,1234.4 1500.0,1238.2" fill="none" stroke="#969696" stroke-width="10" stroke-linejoin="round"/>
<path d="M904.0,1038.2 909.5,1056.7 923.0,1095.8 925.5,1101.8 928.5,1108.0 931.5,1113.2 935.0,1118.2 938.5,1122.0 942.5,1125.0 946.0,1126.5 950.0,1127.2 954.5,1127.0 959.5,1125.7 964.5,1123.5 970.0,1120.3 975.0,1116.6 980.0,1112.2 984.5,1107.5 988.5,1102.6 992.0,1097.5 995.5,1091.5 998.5,1085.3 1001.0,1079.3 1003.5,1072.3 1006.0,1064.1 1010.0,1047.7 1013.5,1029.1 1020.0,989.0 1023.5,973.1 1027.0,961.7 1030.0,954.4 1031.0,952.8 1032.5,951.4 1034.0,950.9 1035.5,951.1 1037.0,951.8 1038.5,952.9 1041.5,956.2 1045.5,962.4 1050.0,970.8 1054.0,979.6 1057.5,988.5 1061.0,998.7 1064.0,1008.8 1068.0,1025.1 1071.5,1043.5 1074.0,1060.3 1079.5,1102.9 1082.5,1121.1 1086.5,1139.0 1091.0,1153.8 1094.5,1163.1 1098.0,1170.9 1102.0,1178.8 1106.5,1186.3 1110.5,1192.0 1114.5,1196.6 1119.0,1200.8 1123.5,1204.0 1127.0,1206.0 1131.0,1207.7 1139.5,1210.4 1149.0,1212.0 1160.0,1212.7 1171.0,1212.6 1184.0,1211.9 1226.0,1207.8 1241.5,1206.7 1257.5,1206.4 1272.0,1207.2 1283.5,1208.6 1294.5,1210.8 1303.5,1213.2 1325.0,1220.6 1337.5,1224.2 1354.0,1227.9 1371.5,1230.7 1390.5,1232.8 1412.0,1234.4 1500.0,1238.2" fill="none" stroke="#838383" stroke-width="6.5" stroke-linejoin="round"/>
</g>
<path d="M904.0,1045.7 909.0,1061.7 915.0,1079.1 921.0,1094.8 926.0,1106.1 931.5,1116.3 937.0,1124.7 941.5,1129.8 944.0,1131.8 946.5,1133.3 950.0,1134.6 953.5,1135.3 957.5,1135.4 962.0,1134.9 966.0,1133.8 970.5,1132.1 975.0,1129.7 979.0,1127.1 982.5,1124.2 985.5,1121.3 988.5,1117.8 991.5,1113.7 994.5,1108.8 997.0,1104.0 1002.0,1092.2M1062.0,1008.4 1067.0,1034.2 1071.5,1061.5 1074.5,1082.9 1079.0,1121.0 1081.0,1134.9 1083.5,1147.7 1086.5,1159.1 1089.5,1168.0 1093.0,1176.3 1097.0,1184.1 1101.5,1191.3 1106.0,1197.2 1111.0,1202.6 1116.5,1207.2 1122.0,1210.7 1128.5,1213.5 1135.0,1215.0 1140.0,1215.5 1154.5,1216.0 1169.0,1218.3 1174.5,1218.6 1178.5,1218.4 1183.5,1217.7 1200.5,1214.1 1211.0,1212.3 1227.5,1210.2 1238.0,1209.4 1248.5,1209.1 1259.0,1209.2 1268.5,1209.8 1282.0,1211.6 1293.5,1214.5 1302.5,1218.0 1320.0,1226.6 1327.5,1229.8 1337.5,1232.8 1348.0,1234.9 1357.5,1235.9 1368.0,1236.5 1405.0,1236.5 1419.5,1237.0 1435.5,1238.3 1477.0,1242.8 1489.0,1243.7 1500.0,1244.0" fill="none" stroke="#c00000" stroke-width="1.2" stroke-linejoin="round" stroke-linecap="round" />
<path d="M1002.0,1092.2 1007.5,1076.9 1012.0,1062.8 1015.5,1049.8 1018.0,1038.3" fill="none" stroke="#d05050" stroke-width="0.9" stroke-linejoin="round" stroke-linecap="round" />
<path d="M904.0,1038.2 909.5,1056.7 923.0,1095.8 925.5,1101.8 928.5,1108.0 931.5,1113.2 935.0,1118.2 938.5,1122.0 942.5,1125.0 946.0,1126.5 950.0,1127.2 954.5,1127.0 959.5,1125.7 964.5,1123.5 970.0,1120.3 975.0,1116.6 980.0,1112.2 984.5,1107.5 988.5,1102.6 992.0,1097.5 995.5,1091.5 998.5,1085.3 1001.0,1079.3 1003.5,1072.3 1006.0,1064.1 1010.0,1047.7 1013.5,1029.1 1020.0,989.0 1023.5,973.1 1027.0,961.7 1030.0,954.4 1031.0,952.8 1032.5,951.4 1034.0,950.9 1035.5,951.1 1037.0,951.8 1038.5,952.9 1041.5,956.2 1045.5,962.4 1050.0,970.8 1054.0,979.6 1057.5,988.5 1061.0,998.7 1064.0,1008.8 1068.0,1025.1 1071.5,1043.5 1074.0,1060.3 1079.5,1102.9 1082.5,1121.1 1086.5,1139.0 1091.0,1153.8 1094.5,1163.1 1098.0,1170.9 1102.0,1178.8 1106.5,1186.3 1110.5,1192.0 1114.5,1196.6 1119.0,1200.8 1123.5,1204.0 1127.0,1206.0 1131.0,1207.7 1139.5,1210.4 1149.0,1212.0 1160.0,1212.7 1171.0,1212.6 1184.0,1211.9 1226.0,1207.8 1241.5,1206.7 1257.5,1206.4 1272.0,1207.2 1283.5,1208.6 1294.5,1210.8 1303.5,1213.2 1325.0,1220.6 1337.5,1224.2 1354.0,1227.9 1371.5,1230.7 1390.5,1232.8 1412.0,1234.4 1500.0,1238.2" fill="none" stroke="#0070c0" stroke-width="3.4" stroke-linejoin="round" stroke-linecap="round" />
</g>
<path d="M904.5,926.1 L904.5,1245.9 L1500,1245.9" fill="none" stroke="#000" stroke-width="1.6"/>
<line x1="896.0" y1="1245.9" x2="904.5" y2="1245.9" stroke="#000" stroke-width="1.6"/>
<line x1="896.0" y1="1200.21" x2="904.5" y2="1200.21" stroke="#000" stroke-width="1.6"/>
<line x1="896.0" y1="1154.52" x2="904.5" y2="1154.52" stroke="#000" stroke-width="1.6"/>
<line x1="896.0" y1="1108.8300000000002" x2="904.5" y2="1108.8300000000002" stroke="#000" stroke-width="1.6"/>
<line x1="896.0" y1="1063.14" x2="904.5" y2="1063.14" stroke="#000" stroke-width="1.6"/>
<line x1="896.0" y1="1017.45" x2="904.5" y2="1017.45" stroke="#000" stroke-width="1.6"/>
<line x1="896.0" y1="971.7600000000001" x2="904.5" y2="971.7600000000001" stroke="#000" stroke-width="1.6"/>
<line x1="896.0" y1="926.0700000000002" x2="904.5" y2="926.0700000000002" stroke="#000" stroke-width="1.6"/>
<line x1="904.5" y1="1245.9" x2="904.5" y2="1254.4" stroke="#000" stroke-width="1.6"/>
<line x1="1074.7" y1="1245.9" x2="1074.7" y2="1254.4" stroke="#000" stroke-width="1.6"/>
<line x1="1244.4" y1="1245.9" x2="1244.4" y2="1254.4" stroke="#000" stroke-width="1.6"/>
<line x1="1413.8" y1="1245.9" x2="1413.8" y2="1254.4" stroke="#000" stroke-width="1.6"/>
<text x="879.6" y="1255.5" font-size="29.5" text-anchor="end" font-weight="bold" fill="#000"  style="">0</text>
<text x="879.6" y="1209.8" font-size="29.5" text-anchor="end" font-weight="bold" fill="#000"  style="">0.05</text>
<text x="879.6" y="1164.1" font-size="29.5" text-anchor="end" font-weight="bold" fill="#000"  style="">0.1</text>
<text x="879.6" y="1118.4" font-size="29.5" text-anchor="end" font-weight="bold" fill="#000"  style="">0.15</text>
<text x="879.6" y="1072.7" font-size="29.5" text-anchor="end" font-weight="bold" fill="#000"  style="">0.2</text>
<text x="879.6" y="1027.0" font-size="29.5" text-anchor="end" font-weight="bold" fill="#000"  style="">0.25</text>
<text x="879.6" y="981.4" font-size="29.5" text-anchor="end" font-weight="bold" fill="#000"  style="">0.3</text>
<text x="879.6" y="935.7" font-size="29.5" text-anchor="end" font-weight="bold" fill="#000"  style="">0.35</text>
<text x="904.5" y="1290.1" font-size="29.5" text-anchor="middle" font-weight="bold" fill="#000"  style="">350</text>
<text x="1074.7" y="1290.1" font-size="29.5" text-anchor="middle" font-weight="bold" fill="#000"  style="">450</text>
<text x="1244.4" y="1290.1" font-size="29.5" text-anchor="middle" font-weight="bold" fill="#000"  style="">550</text>
<text x="1413.8" y="1290.1" font-size="29.5" text-anchor="middle" font-weight="bold" fill="#000"  style="">650</text>
<text x="1202.5" y="1328.5" font-size="29" text-anchor="middle" font-weight="bold" fill="#000"  style="">Wavelength (nm)</text>
<text transform="translate(812.0,1086.6) rotate(-90)" x="0" y="0" font-size="29.6" text-anchor="middle" font-weight="bold" >Absorbance</text>
</svg>
</body></html>
